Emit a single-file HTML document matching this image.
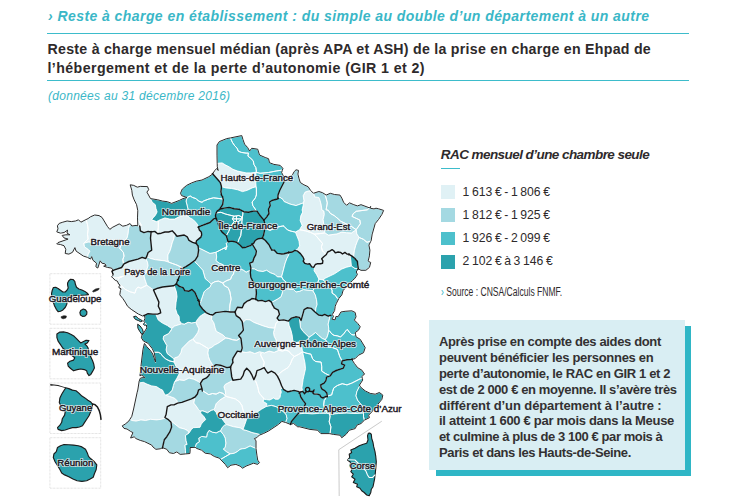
<!DOCTYPE html>
<html lang="fr">
<head>
<meta charset="utf-8">
<title>Reste à charge en établissement</title>
<style>
html,body{margin:0;padding:0;background:#fff;}
body{width:748px;height:504px;position:relative;overflow:hidden;font-family:"Liberation Sans",sans-serif;color:#2e2a2b;}
.t{position:absolute;white-space:nowrap;transform-origin:0 0;line-height:1;}
.rule{position:absolute;left:47px;width:642px;height:1px;background:#3dbccb;}
#title{left:48px;top:9px;font-size:14px;letter-spacing:0.433px;font-weight:bold;font-style:italic;color:#3ab7c7;}
.h{font-size:14.2px;font-weight:bold;color:#2e2a2b;left:47.5px;}
#sub{left:48px;top:89.6px;font-size:12px;letter-spacing:0.285px;font-style:italic;color:#3ab7c7;}
#lt{left:440.8px;top:147.8px;font-size:13.5px;letter-spacing:-0.562px;font-weight:bold;font-style:italic;}
#ltr{position:absolute;left:441px;top:168px;width:18.5px;height:1px;background:#3dbccb;}
.sq{position:absolute;left:441px;width:14px;height:13.5px;}
.ll{left:462.6px;font-size:12.2px;word-spacing:-0.8px;color:#2e2a2b;}
#src{left:441.3px;top:285.8px;font-size:12px;transform:scaleX(0.713);color:#2e2a2b;}
#shadow{position:absolute;left:435.5px;top:326.3px;width:255.3px;height:150.1px;background:#2fb6c6;}
#box{position:absolute;left:428.7px;top:320.3px;width:256px;height:150.1px;background:#d9eef3;}
.b{left:439px;font-size:13px;font-weight:bold;color:#333132;}
#map{position:absolute;left:0;top:0;}
</style>
</head>
<body>
<div class="t" id="title">› Reste à charge en établissement : du simple au double d’un département à un autre</div>
<div class="rule" style="top:33px"></div>
<div class="t h" id="h1" style="top:42px;letter-spacing:0.257px">Reste à charge mensuel médian (après APA et ASH) de la prise en charge en Ehpad de</div>
<div class="t h" id="h2" style="top:61.2px;letter-spacing:0.414px">l’hébergement et de la perte d’autonomie (GIR 1 et 2)</div>
<div class="rule" style="top:80px"></div>
<div class="t" id="sub">(données au 31 décembre 2016)</div>

<div class="t" id="lt">RAC mensuel d’une chambre seule</div>
<div id="ltr"></div>
<div class="sq" style="top:185.2px;background:#e0f1f5"></div>
<div class="sq" style="top:208.4px;background:#a4d9e2"></div>
<div class="sq" style="top:231.5px;background:#4dc0cc"></div>
<div class="sq" style="top:255px;background:#2ba2ad"></div>
<div class="t ll" id="l1" style="top:185.6px">1 613 € - 1 806 €</div>
<div class="t ll" id="l2" style="top:208.8px">1 812 € - 1 925 €</div>
<div class="t ll" id="l3" style="top:232px">1 926 € - 2 099 €</div>
<div class="t ll" id="l4" style="top:255.2px">2 102 € à 3 146 €</div>
<div class="t" id="src"><span style="color:#3ab7c7">›</span> Source : CNSA/Calculs FNMF.</div>

<div id="shadow"></div>
<div id="box"></div>
<div class="t b" id="b1" style="top:334.7px;letter-spacing:-0.358px">Après prise en compte des aides dont</div>
<div class="t b" id="b2" style="top:350.6px;letter-spacing:-0.294px">peuvent bénéficier les personnes en</div>
<div class="t b" id="b3" style="top:366.6px;letter-spacing:-0.351px">perte d’autonomie, le RAC en GIR 1 et 2</div>
<div class="t b" id="b4" style="top:382.5px;letter-spacing:-0.399px">est de 2 000 € en moyenne. Il s’avère très</div>
<div class="t b" id="b5" style="top:398.5px;letter-spacing:-0.092px">différent d’un département à l’autre :</div>
<div class="t b" id="b6" style="top:414.4px;letter-spacing:-0.295px">il atteint 1 600 € par mois dans la Meuse</div>
<div class="t b" id="b7" style="top:430.3px;letter-spacing:-0.423px">et culmine à plus de 3 100 € par mois à</div>
<div class="t b" id="b8" style="top:446.3px;letter-spacing:-0.381px">Paris et dans les Hauts-de-Seine.</div>
<svg id="map" width="748" height="504" viewBox="0 0 748 504">
<rect x="49.9" y="273.7" width="50.8" height="50.5" fill="#fff" stroke="#cfcfcf" stroke-width="0.8" stroke-dasharray="0.7,0.7"/>
<rect x="49.9" y="328.3" width="50.8" height="50.5" fill="#fff" stroke="#cfcfcf" stroke-width="0.8" stroke-dasharray="0.7,0.7"/>
<rect x="49.9" y="383.0" width="50.8" height="50.5" fill="#fff" stroke="#cfcfcf" stroke-width="0.8" stroke-dasharray="0.7,0.7"/>
<rect x="49.9" y="437.7" width="50.8" height="50.5" fill="#fff" stroke="#cfcfcf" stroke-width="0.8" stroke-dasharray="0.7,0.7"/>
<path d="M339.2,496 L338.8,449.7 L381.8,421.2" fill="none" stroke="#bdbdbd" stroke-width="0.8"/>
<path d="M122.2,286.4L120.1,285.0L118.9,286.8L119.3,288.0L121.2,288.8L122.2,286.4ZM137.6,220.0L137.9,225.0L137.6,225.9L139.7,226.6L139.8,226.5L141.5,225.4L139.7,222.4L137.9,220.0L137.6,220.0ZM117.4,281.0L119.2,278.0L123.4,276.2L120.4,276.8L116.8,278.0L112.4,277.5L115.3,280.4L117.4,281.0ZM292.7,355.4L290.7,353.4L288.7,351.0L285.5,350.2L282.3,351.0L278.7,350.3L278.5,350.3L278.2,350.3L278.3,350.5L274.1,352.3L269.2,351.1L264.4,352.9L261.3,352.2L260.6,355.0L264.2,362.2L263.6,365.8L264.2,367.6L266.0,370.6L267.8,373.1L271.4,371.2L275.0,373.1L277.1,375.7L277.4,375.4L282.2,371.2L288.0,367.6L289.2,365.7L289.9,365.1L292.3,359.1L294.1,356.7L294.6,356.4L292.7,355.4ZM151.1,232.0L150.5,238.1L151.7,250.1L148.1,252.5L146.9,256.1L146.7,256.6L146.9,256.7L150.5,258.5L155.3,259.7L164.9,260.9L168.6,262.1L167.9,259.7L167.9,254.9L169.8,251.3L171.0,247.7L172.2,242.9L174.0,238.1L174.6,233.2L172.2,230.8L168.6,232.0L164.9,232.0L161.3,233.2L157.7,233.8L157.6,233.7L154.7,231.4L151.1,232.0ZM278.2,350.3L278.5,350.3L278.7,350.3L282.3,351.0L285.5,350.2L288.7,351.0L290.7,353.4L292.7,355.4L294.6,356.4L294.6,356.4L298.9,354.2L302.5,351.8L301.5,344.6L301.1,341.7L298.1,342.1L293.9,343.3L292.7,339.7L292.1,334.9L290.9,330.1L289.1,325.3L288.5,321.1L283.7,319.9L278.9,320.4L275.9,323.5L274.7,328.3L273.5,332.5L274.1,336.1L275.9,339.7L277.1,343.3L278.2,350.3ZM254.0,379.6L254.0,379.6L255.6,381.0L256.8,384.0L258.0,388.0L258.8,392.0L260.4,394.8L262.5,396.8L264.1,399.2L266.5,399.6L269.7,400.0L272.1,398.8L273.7,398.0L275.3,399.2L278.5,399.2L280.1,397.2L280.5,394.4L281.3,392.0L280.5,389.6L282.3,387.6L282.5,387.5L281.6,385.7L279.8,380.9L277.4,376.1L277.1,375.7L275.0,373.1L271.4,371.2L267.8,373.1L266.0,370.6L264.2,367.6L260.6,369.4L257.0,370.6L255.8,375.4L254.0,379.6ZM212.1,314.9L209.7,314.4L206.1,312.6L205.8,312.3L205.1,313.0L200.1,316.2L197.1,319.9L195.9,322.3L197.1,325.3L198.9,328.9L197.7,332.5L195.3,336.1L192.9,339.0L195.9,342.7L199.5,343.3L208.5,348.7L211.5,347.5L214.5,345.1L218.1,343.3L225.9,337.9L222.9,334.9L216.3,331.3L215.1,327.7L213.9,322.9L211.5,319.2L212.1,315.0L212.1,314.9ZM350.8,260.0L350.4,257.2L350.2,255.1L350.1,255.0L349.0,254.3L349.0,254.3L349.0,254.3L346.9,254.0L344.9,252.4L342.5,254.0L340.5,252.4L338.1,252.0L335.3,252.8L333.7,250.8L332.1,249.6L330.1,250.8L327.7,252.0L326.1,254.8L323.7,256.8L321.7,258.8L322.9,260.8L322.5,263.3L320.5,263.7L317.7,263.7L315.3,264.5L314.5,265.9L314.7,266.0L314.1,270.8L316.5,274.4L318.9,279.2L323.1,279.9L325.5,278.1L334.5,273.8L341.8,269.0L346.6,267.2L351.4,266.0L350.8,260.0L350.8,260.0L350.8,260.0ZM250.0,351.7L246.0,352.5L241.3,351.6L241.1,351.5L241.0,351.7L237.4,351.1L233.2,357.8L232.6,360.0L232.9,362.2L230.5,367.0L231.7,376.7L232.9,380.3L240.7,379.1L243.1,375.4L244.3,371.2L246.7,368.2L249.7,371.2L252.1,375.4L253.9,379.6L254.0,379.6L255.8,375.4L257.0,370.6L260.6,369.4L264.2,367.6L263.6,365.8L264.2,362.2L260.6,355.0L261.3,352.2L259.6,351.7L254.8,353.5L250.0,351.7L250.0,351.7ZM222.0,418.8L225.3,423.3L226.6,424.6L233.4,426.7L240.1,427.8L243.0,429.5L243.0,429.5L246.0,421.1L246.6,418.7L246.6,418.7L246.5,418.6L245.5,417.0L244.3,415.0L244.3,415.0L244.3,415.0L241.9,405.5L239.5,401.9L235.3,398.9L225.7,396.3L219.7,400.1L216.1,403.7L214.8,407.9L213.6,409.8L216.1,412.1L217.2,415.0L217.2,415.0L217.3,415.0L222.0,418.8ZM302.7,391.3L302.5,390.6L301.9,387.9L303.1,379.5L305.5,368.7L304.9,362.7L302.5,351.8L298.9,354.2L294.6,356.4L294.6,356.4L294.1,356.7L292.3,359.1L289.9,365.1L289.2,365.7L288.0,367.6L282.2,371.2L277.4,375.4L277.1,375.7L277.4,376.1L279.8,380.9L281.6,385.7L282.5,387.5L283.4,389.3L286.4,391.1L288.0,391.7L290.1,391.4L294.1,390.4L298.9,391.6L299.6,392.8L300.4,392.1L302.7,391.3ZM322.5,251.0L322.5,251.0L321.3,247.1L322.5,243.5L316.5,236.3L314.1,234.1L310.5,232.4L305.7,230.9L299.6,229.7L295.4,232.1L299.0,241.1L299.6,245.9L297.8,248.9L295.3,250.5L297.6,251.2L300.4,253.6L302.8,256.8L304.0,259.2L303.2,261.3L304.8,263.3L307.6,264.1L309.6,263.7L311.7,266.9L313.7,267.3L314.5,265.9L315.3,264.5L317.7,263.7L320.5,263.7L322.5,263.3L322.9,260.8L321.7,258.8L323.7,256.8L326.1,254.8L325.3,253.6L323.7,252.2L322.5,251.0ZM196.1,242.7L196.5,240.7L198.5,239.1L200.9,237.1L201.7,234.7L201.3,231.9L199.3,229.9L198.5,227.2L198.5,227.1L198.5,227.1L197.3,224.2L195.3,221.8L192.9,219.4L189.7,217.8L187.7,215.8L187.7,215.8L184.1,215.4L179.4,216.6L174.6,219.1L169.8,219.1L164.9,217.9L160.1,219.8L158.6,220.5L158.3,220.7L158.3,227.2L157.7,233.6L157.6,233.7L157.7,233.8L161.3,233.2L164.9,232.0L168.6,232.0L172.2,230.8L174.6,233.2L177.0,236.2L184.2,235.0L187.2,236.8L189.0,240.4L192.6,242.3L196.2,243.5L196.1,242.7ZM323.7,252.2L325.3,253.6L326.1,254.8L327.7,252.0L330.1,250.8L332.1,249.6L333.7,250.8L335.3,252.8L338.1,252.0L340.5,252.4L342.5,254.0L344.9,252.4L346.9,254.0L349.0,254.3L349.0,254.3L349.0,254.3L350.1,255.0L350.2,255.1L352.0,256.1L353.5,257.4L354.4,250.7L355.6,245.9L357.4,241.1L359.2,237.5L356.8,233.9L356.2,229.7L351.4,232.9L346.6,232.7L341.8,232.1L336.9,233.9L328.5,235.1L324.9,232.9L320.1,233.6L314.1,234.1L316.5,236.3L322.5,243.5L321.3,247.1L322.5,251.0L322.5,251.0L323.7,252.2ZM181.7,323.8L181.8,323.7L179.4,320.7L179.1,316.5L177.0,313.5L175.5,308.7L176.0,302.7L177.0,296.7L176.4,291.8L174.3,285.8L174.1,285.4L173.4,285.8L162.5,287.0L157.7,288.2L153.6,290.0L153.5,290.0L158.9,302.1L158.3,306.3L160.1,309.9L160.7,312.9L157.7,314.1L155.9,314.1L155.9,314.5L158.3,320.1L162.5,323.1L167.3,325.5L171.6,328.5L174.6,326.1L181.7,323.8ZM220.3,182.5L221.5,186.7L225.7,187.9L231.7,188.5L237.7,189.8L242.5,191.6L247.3,190.3L252.1,187.9L256.0,186.7L256.1,186.7L255.8,183.1L256.0,172.3L250.9,172.9L246.1,172.9L237.7,171.1L232.9,169.3L229.3,166.9L225.7,165.1L222.1,162.9L217.5,163.3L217.3,163.3L217.3,166.8L218.4,170.8L216.9,168.5L214.9,170.4L212.8,173.7L212.4,173.5L212.7,173.8L220.3,182.5ZM150.5,198.7L150.5,198.7L146.9,192.1L148.7,189.7L147.5,186.7L140.3,186.4L137.3,187.3L133.7,185.4L130.3,184.8L131.8,190.3L132.4,195.1L134.3,199.9L136.7,204.7L137.9,210.7L137.5,217.9L137.6,220.0L137.9,220.0L139.7,222.4L141.5,225.4L139.8,226.5L139.9,226.6L140.3,230.8L143.9,232.6L148.1,231.4L151.1,232.0L154.7,231.4L157.6,233.7L157.7,233.6L158.3,227.2L158.3,220.7L156.5,221.6L151.7,219.8L152.9,217.9L155.3,215.5L157.1,211.9L155.9,208.3L155.3,204.7L152.3,202.3L150.5,198.9L150.5,198.7ZM313.7,193.2L313.5,193.3L311.1,190.9L308.7,190.9L305.1,192.1L303.2,195.7L303.9,200.5L303.5,202.9L303.2,205.3L302.1,210.0L302.7,212.1L300.8,215.8L300.2,220.6L302.1,225.4L299.6,229.7L305.7,230.9L310.5,232.4L314.1,234.1L320.1,233.6L324.9,232.9L323.1,219.4L324.3,214.6L323.9,211.0L321.9,210.0L321.3,205.3L320.1,200.5L318.9,197.5L314.7,196.9L313.8,193.6L313.7,193.2ZM86.0,219.7L80.9,222.2L78.5,219.8L75.5,221.0L71.3,221.6L67.1,221.0L62.9,222.2L59.2,223.4L57.5,225.8L58.0,228.8L56.8,231.8L60.5,233.1L61.3,232.9L64.1,232.4L67.7,230.0L67.1,233.1L70.1,234.8L65.9,234.8L62.3,235.4L64.1,237.9L68.3,239.1L58.0,242.7L56.8,243.9L60.5,244.5L64.1,245.7L65.9,249.3L65.3,253.5L68.9,254.1L72.5,252.3L74.9,247.5L76.1,251.1L83.3,255.9L86.9,257.1L87.5,257.4L87.5,257.4L88.1,254.7L89.9,251.1L88.1,249.3L84.5,246.9L83.9,243.3L88.1,239.1L87.5,234.2L88.1,229.4L87.5,224.6L86.3,220.4L86.0,219.7ZM137.9,259.1L128.8,261.5L124.0,263.9L121.6,267.5L114.4,269.9L113.2,270.5L112.0,271.1L112.7,273.4L113.4,275.0L111.7,276.7L111.7,276.7L111.7,276.8L112.0,277.4L112.4,277.5L116.8,278.0L120.4,276.8L123.4,276.2L119.2,278.0L117.4,281.0L118.6,284.0L120.1,285.0L122.2,286.4L125.2,289.4L130.1,291.8L134.9,293.1L136.1,289.4L137.9,287.0L140.9,288.2L146.9,285.2L144.5,278.0L143.9,275.0L146.3,272.9L146.9,269.3L148.1,265.7L147.5,262.1L145.7,258.5L142.1,257.3L137.9,259.1ZM122.2,286.4L121.2,288.8L120.4,290.6L119.8,294.9L122.8,298.5L125.2,302.1L127.6,306.3L131.2,309.3L138.5,314.1L142.7,315.9L144.5,315.3L148.1,313.7L152.9,314.1L155.9,314.1L157.7,314.1L160.7,312.9L160.1,309.9L158.3,306.3L158.9,302.1L153.5,290.0L153.6,290.0L153.5,289.9L146.9,285.2L140.9,288.2L137.9,287.0L136.1,289.4L134.9,293.1L130.1,291.8L125.2,289.4L122.2,286.4ZM189.0,433.1L191.2,429.7L193.2,427.7L200.0,427.3L201.3,424.1L203.3,421.7L205.7,419.6L204.1,416.8L201.4,413.9L200.4,412.8L201.0,412.2L200.1,411.3L199.3,410.4L198.6,409.7L196.2,406.1L193.8,403.1L195.0,397.0L191.4,398.8L181.8,402.4L177.6,403.1L174.0,404.9L171.0,404.9L167.3,406.7L166.1,414.5L164.9,417.5L165.6,417.9L167.9,419.3L171.0,422.3L171.9,421.7L179.4,427.7L184.2,428.9L187.8,430.7L189.0,433.1L189.0,433.1ZM109.8,229.4L107.4,226.4L102.0,217.4L99.0,215.6L94.8,215.0L90.5,216.8L88.1,218.6L86.0,219.7L86.3,220.4L87.5,224.6L88.1,229.4L87.5,234.2L88.1,239.1L83.9,243.3L88.1,242.1L106.2,242.9L121.2,244.2L121.2,244.2L121.3,244.2L121.3,244.2L127.0,238.0L127.0,238.0L127.1,238.0L128.2,233.2L128.6,228.4L130.1,223.8L130.2,223.8L130.1,223.6L126.4,225.4L122.8,226.3L119.2,224.0L112.2,227.6L112.2,227.6L109.8,229.4ZM242.5,322.8L246.0,319.6L250.0,319.9L250.0,319.9L250.0,319.9L253.6,322.3L263.2,325.9L269.2,327.7L274.7,328.3L275.9,323.5L278.9,320.4L277.1,318.1L279.5,314.4L278.3,310.2L274.1,307.8L273.8,307.0L272.6,305.0L271.5,302.3L271.4,302.1L269.0,300.4L265.4,301.6L261.8,300.4L258.2,300.9L255.8,299.1L252.1,298.5L251.8,298.7L250.0,300.0L247.0,301.2L244.0,303.6L242.2,307.8L237.4,307.2L235.0,312.0L236.2,315.6L239.8,318.1L242.2,321.7L242.4,322.8L242.5,322.8ZM246.5,418.6L246.6,418.7L248.4,415.7L253.2,413.9L258.1,411.5L261.7,409.1L265.9,406.7L265.9,406.7L265.9,406.6L266.0,406.6L266.5,405.7L266.9,403.7L264.9,402.5L262.9,401.3L264.1,399.2L262.5,396.8L260.4,394.8L258.8,392.0L258.0,388.0L256.8,384.0L255.6,381.0L254.0,379.6L254.0,379.6L253.9,379.6L252.1,375.4L249.7,371.2L246.7,368.2L244.3,371.2L243.1,375.4L240.7,379.1L232.9,380.3L225.1,384.5L223.9,386.9L225.1,390.5L225.7,394.7L225.7,396.3L235.3,398.9L239.5,401.9L241.9,405.5L244.3,415.0L244.3,415.0L244.3,415.0L245.5,417.0L246.5,418.6ZM138.9,382.9L137.9,390.0L137.3,392.2L133.7,409.1L131.8,416.3L130.0,419.3L131.8,420.5L136.1,421.1L140.9,419.9L145.7,420.5L150.5,419.3L156.5,419.9L161.3,419.3L165.5,418.1L165.6,417.9L164.9,417.5L166.1,414.5L167.3,406.7L171.0,404.9L174.0,404.9L177.6,403.1L177.0,400.6L174.6,398.2L169.8,396.4L165.5,395.2L164.0,393.2L162.5,390.1L162.5,390.0L160.1,389.0L156.5,386.6L151.7,385.9L146.9,384.1L143.3,382.3L139.1,382.9L138.9,382.9ZM211.5,363.0L209.7,360.0L209.7,360.0L209.7,360.0L208.5,356.6L207.9,352.9L208.5,348.7L199.5,343.3L195.9,342.7L192.9,339.0L189.2,341.1L182.0,348.4L180.8,352.9L178.4,356.6L174.4,358.0L174.0,358.6L173.8,358.8L174.0,358.9L174.0,361.9L175.8,366.1L178.2,370.3L179.4,373.3L177.0,378.1L175.2,381.1L174.6,381.7L179.4,379.9L184.2,380.5L189.0,378.1L193.8,379.3L198.6,381.7L200.5,383.1L202.8,379.7L206.4,377.9L208.8,375.4L213.6,366.4L213.4,366.2L211.5,363.0Z" fill="#e0f1f5" stroke="#fff" stroke-width="0.9" stroke-linejoin="round"/>
<path d="M357.4,261.6L357.4,261.6L357.8,265.0L358.3,268.7L358.3,268.7L358.3,268.8L361.0,270.2L365.8,270.2L369.4,267.2L370.6,262.4L368.6,261.7L368.2,260.9L369.4,255.9L369.9,250.1L368.9,245.1L370.8,241.3L370.4,241.1L367.0,242.3L363.4,239.3L359.2,237.5L357.4,241.1L355.6,245.9L354.4,250.7L353.5,257.4L353.9,257.6L355.0,258.5L357.4,261.6ZM201.6,388.8L198.6,389.8L197.4,394.0L195.0,397.0L193.8,403.1L196.2,406.1L198.6,409.7L199.3,410.4L200.1,411.3L202.8,410.9L207.6,412.8L211.2,410.4L213.6,409.8L214.8,407.9L216.1,403.7L219.7,400.1L225.7,396.3L223.3,393.5L219.7,392.3L216.1,394.1L212.4,393.5L208.8,394.7L202.2,390.5L201.6,388.8ZM171.0,422.3L171.6,427.1L169.8,431.9L166.8,436.7L164.3,439.8L163.1,445.0L162.6,447.6L166.8,449.3L169.3,452.6L173.5,453.5L176.8,451.8L180.2,454.3L185.5,453.9L185.5,453.5L185.5,450.3L185.0,445.2L185.0,445.0L187.1,444.5L186.0,440.4L185.4,435.5L189.0,433.1L189.0,433.1L187.8,430.7L184.2,428.9L179.4,427.7L171.9,421.7L171.0,422.3ZM174.6,381.7L173.4,385.4L172.2,390.0L172.2,390.1L168.6,394.0L165.5,395.2L169.8,396.4L174.6,398.2L177.0,400.6L177.6,403.1L181.8,402.4L191.4,398.8L195.0,397.0L197.4,394.0L198.6,389.8L201.6,388.8L202.0,388.6L201.4,386.6L200.4,383.3L200.5,383.1L200.5,383.1L198.6,381.7L193.8,379.3L189.0,378.1L184.2,380.5L179.4,379.9L174.6,381.7ZM322.5,192.7L318.9,191.5L313.7,193.2L313.8,193.6L314.7,196.9L318.9,197.5L320.1,200.5L321.3,205.3L321.9,210.0L323.9,211.0L324.3,214.6L323.1,219.4L324.9,232.9L328.5,235.1L336.9,233.9L341.8,232.1L346.6,232.7L351.4,232.9L356.2,229.7L351.4,226.4L340.6,221.2L338.1,218.8L334.5,215.8L330.3,213.4L328.2,210.2L326.1,209.8L327.3,202.9L326.1,198.1L324.9,194.5L325.0,194.4L322.5,192.7ZM367.6,209.8L356.2,211.3L353.2,213.7L352.0,216.4L359.8,220.0L360.4,223.7L356.2,229.7L356.8,233.9L359.2,237.5L363.4,239.3L367.0,242.3L370.4,241.1L370.8,241.3L371.0,240.9L372.2,234.1L372.2,234.1L372.2,233.9L375.2,223.5L378.5,219.3L381.9,214.3L383.6,210.5L378.5,208.8L376.0,208.2L374.0,209.0L370.6,208.4L370.0,208.1L370.6,206.4L369.3,207.9L367.6,209.8ZM284.4,181.3L279.8,190.3L278.0,195.0L277.9,197.3L278.3,198.1L279.8,197.2L283.0,199.6L284.0,201.5L290.0,204.1L296.0,205.6L303.5,202.9L303.5,202.9L303.9,200.5L303.2,195.7L305.1,192.1L308.7,190.9L311.1,190.9L310.5,190.3L308.1,186.7L303.9,184.9L300.2,182.5L299.0,178.9L297.8,174.1L298.4,170.4L296.0,169.8L294.2,171.7L292.7,174.7L288.6,178.3L284.0,176.7L283.7,176.5L283.7,176.8L284.4,181.3ZM201.4,386.6L202.0,388.6L201.6,388.8L202.2,390.5L208.8,394.7L212.4,393.5L216.1,394.1L219.7,392.3L223.3,393.5L225.7,396.3L225.7,394.7L225.1,390.5L223.9,386.9L225.1,384.5L232.9,380.3L231.7,376.7L230.5,367.0L226.9,367.6L220.3,365.2L216.1,364.6L213.6,366.4L208.8,375.4L206.4,377.9L202.8,379.7L200.5,383.1L200.5,383.1L200.4,383.3L201.4,386.6ZM315.0,312.1L315.0,312.0L311.4,308.4L307.1,307.8L304.1,309.6L301.1,320.4L299.3,317.4L300.5,327.7L302.9,331.3L309.0,337.3L312.6,334.9L315.6,332.5L318.6,335.5L322.2,338.5L325.2,339.7L325.3,339.6L327.0,337.3L328.2,333.7L328.6,330.5L328.8,328.9L328.2,324.1L330.3,315.4L330.1,315.3L328.2,316.2L324.6,314.4L322.2,315.6L318.6,315.0L315.0,312.1ZM229.5,311.9L225.3,311.4L215.7,312.6L212.7,315.0L212.1,314.9L212.1,315.0L211.5,319.2L213.9,322.9L215.1,327.7L216.3,331.3L222.9,334.9L225.9,337.9L229.0,338.5L232.6,339.7L236.8,340.3L240.0,338.3L240.5,337.9L238.6,335.5L241.0,333.1L243.4,330.1L242.4,322.8L242.2,321.7L239.8,318.1L236.2,315.6L235.0,312.0L230.2,312.0L229.5,311.9ZM209.7,360.0L209.7,360.0L209.7,360.0L211.5,363.0L213.4,366.2L213.6,366.4L216.1,364.6L220.3,365.2L226.9,367.6L230.5,367.0L232.9,362.2L232.6,360.0L233.2,357.8L237.4,351.1L241.0,351.7L241.1,351.5L242.2,348.1L241.0,338.5L240.5,337.9L240.0,338.3L236.8,340.3L232.6,339.7L229.0,338.5L225.9,337.9L218.1,343.3L214.5,345.1L211.5,347.5L208.5,348.7L207.9,352.9L208.5,356.6L209.7,360.0ZM224.6,425.0L222.2,427.4L220.4,431.0L223.4,434.6L225.2,438.2L225.8,443.1L225.2,447.3L223.2,449.1L226.4,451.7L230.0,453.9L234.2,453.3L237.2,451.7L240.0,449.4L242.2,448.8L245.1,448.5L250.1,446.0L256.0,448.5L256.0,440.9L254.3,438.4L256.8,437.6L259.3,435.1L259.7,434.9L259.5,434.3L252.0,432.5L247.2,430.7L243.2,429.6L243.0,429.5L243.0,429.5L240.1,427.8L233.4,426.7L226.6,424.6L224.6,425.0ZM369.3,207.9L361.0,204.8L357.4,205.9L353.8,204.8L349.6,202.9L346.6,205.3L343.6,202.3L341.8,198.1L339.9,195.1L334.5,194.5L330.3,193.3L326.1,195.1L325.0,194.4L324.9,194.5L326.1,198.1L327.3,202.9L326.1,209.8L328.2,210.2L330.3,213.4L334.5,215.8L338.1,218.8L340.6,221.2L351.4,226.4L356.2,229.7L360.4,223.7L359.8,220.0L352.0,216.4L353.2,213.7L356.2,211.3L367.6,209.8L369.3,207.9ZM189.0,240.4L187.2,236.8L184.2,235.0L177.0,236.2L174.6,233.2L174.0,238.1L172.2,242.9L171.0,247.7L169.8,251.3L167.9,254.9L167.9,259.7L168.6,262.1L177.0,265.1L183.0,268.1L186.0,266.7L190.2,263.9L194.1,261.0L195.0,260.3L197.7,256.1L198.6,250.1L198.3,247.8L198.3,247.6L198.0,245.9L196.2,243.5L196.2,243.5L196.2,243.5L192.6,242.3L189.0,240.4ZM198.9,328.9L197.1,325.3L195.9,322.3L191.7,322.9L188.1,322.3L184.4,324.1L181.9,323.7L181.8,323.7L181.8,323.7L181.7,323.8L174.6,326.1L171.6,328.5L171.2,330.1L171.0,330.0L168.6,333.6L163.7,336.0L163.1,339.0L166.8,345.6L166.1,349.9L167.1,353.5L173.8,358.8L174.0,358.6L174.4,358.0L178.4,356.6L180.8,352.9L182.0,348.4L189.2,341.1L192.9,339.0L195.3,336.1L197.7,332.5L198.9,328.9ZM194.3,261.3L196.0,263.0L198.0,264.9L198.0,264.9L198.0,264.9L202.8,270.3L205.2,278.7L208.2,281.1L211.2,284.1L211.8,283.5L214.8,281.7L218.4,281.1L222.7,282.9L226.9,280.5L230.5,279.3L231.7,276.3L233.5,273.9L234.1,270.5L228.1,267.9L222.1,264.2L219.1,263.1L216.1,260.6L216.7,257.0L216.1,252.2L210.0,253.4L200.4,248.6L198.3,247.8L198.6,250.1L197.7,256.1L195.0,260.3L194.1,261.0L194.3,261.3ZM229.5,311.8L229.7,308.5L229.9,305.0L229.9,305.0L229.9,305.0L231.1,299.1L229.9,291.9L228.1,287.7L224.5,285.9L222.7,282.9L218.4,281.1L214.8,281.7L211.8,283.5L211.2,284.1L210.0,287.1L206.4,289.5L204.0,291.9L200.4,302.5L199.2,302.7L199.5,304.8L202.5,309.0L205.8,312.3L206.1,312.6L209.7,314.4L212.1,314.9L212.7,315.0L215.7,312.6L225.3,311.4L229.5,311.9L229.5,311.8ZM113.2,270.5L114.4,269.9L121.6,267.5L124.0,263.9L123.4,263.3L122.8,259.7L124.0,256.1L123.4,252.5L119.8,248.3L121.2,244.2L121.2,244.2L106.2,242.9L88.1,242.1L83.9,243.3L84.5,246.9L88.1,249.3L89.9,251.1L88.1,254.7L87.5,257.4L87.5,257.4L90.5,258.9L91.7,256.5L92.9,260.1L96.5,263.1L96.0,266.7L97.8,267.9L100.2,260.7L102.0,263.1L105.0,263.7L106.2,265.5L103.8,266.1L107.4,267.3L111.0,267.9L112.2,268.5L113.2,270.5ZM131.8,226.0L130.2,223.8L130.1,223.8L128.6,228.4L128.2,233.2L127.1,238.0L127.0,238.0L127.0,238.0L121.3,244.2L121.3,244.2L121.2,244.2L119.8,248.3L123.4,252.5L124.0,256.1L122.8,259.7L123.4,263.3L124.0,263.9L128.8,261.5L137.9,259.1L142.1,257.3L145.7,258.5L146.7,256.6L146.9,256.1L148.1,252.5L151.7,250.1L150.5,238.1L151.1,232.0L148.1,231.4L143.9,232.6L140.3,230.8L139.9,226.6L139.8,226.5L139.7,226.6L137.6,225.9L136.1,225.4L131.8,226.0ZM288.0,256.4L288.0,256.4L288.8,254.5L289.5,252.6L289.5,252.4L288.8,252.5L288.8,252.5L288.8,252.5L284.0,253.7L281.8,254.0L277.4,253.4L274.1,250.1L272.0,250.0L270.8,248.4L269.0,244.8L265.4,240.5L262.4,238.1L258.2,238.7L255.2,240.5L253.9,242.9L252.2,244.3L252.8,245.0L256.4,251.0L255.8,254.6L253.9,258.2L252.8,261.8L249.7,263.1L250.9,267.9L250.9,268.5L250.9,268.5L254.6,269.1L258.2,270.9L263.0,271.5L266.6,270.3L270.2,272.7L275.0,274.5L277.4,276.9L281.6,276.9L285.2,263.1L287.0,258.2L288.0,256.4ZM177.9,280.0L177.9,280.0L180.6,272.9L183.0,268.1L177.0,265.1L168.6,262.1L164.9,260.9L155.3,259.7L150.5,258.5L146.9,256.7L146.7,256.6L145.7,258.5L147.5,262.1L148.1,265.7L146.9,269.3L146.3,272.9L143.9,275.0L144.5,278.0L146.9,285.2L153.5,289.9L153.6,290.0L157.7,288.2L162.5,287.0L173.4,285.8L174.1,285.4L176.4,284.0L176.4,284.0L176.4,284.0L176.4,284.0L177.0,282.0L177.9,280.0L177.9,280.0ZM229.9,305.0L229.9,305.0L229.9,305.0L229.7,308.5L229.5,311.8L229.5,311.9L230.2,312.0L235.0,312.0L237.4,307.2L242.2,307.8L244.0,303.6L247.0,301.2L250.0,300.0L251.8,298.7L252.1,298.5L255.8,299.1L256.4,293.1L255.8,284.7L252.8,281.1L250.9,277.5L250.3,272.7L250.6,270.3L250.6,270.3L248.5,270.9L246.1,272.1L243.7,270.3L240.1,268.5L234.1,270.5L233.5,273.9L231.7,276.3L230.5,279.3L226.9,280.5L222.7,282.9L224.5,285.9L228.1,287.7L229.9,291.9L231.1,299.1L229.9,305.0ZM130.0,419.3L128.8,421.1L125.2,424.1L122.2,425.9L124.0,428.3L127.0,428.9L130.7,431.3L133.1,432.5L130.7,437.9L134.3,436.7L136.1,438.5L140.3,440.4L144.5,441.6L151.7,445.0L153.1,447.0L156.0,449.3L160.1,448.8L162.6,447.6L163.1,445.0L164.3,439.8L166.8,436.7L169.8,431.9L171.6,427.1L171.0,422.3L167.9,419.3L165.6,417.9L165.5,418.1L161.3,419.3L156.5,419.9L150.5,419.3L145.7,420.5L140.9,419.9L136.1,421.1L131.8,420.5L130.0,419.3ZM250.0,319.9L250.0,319.9L246.0,319.6L242.5,322.8L242.4,322.8L243.4,330.1L241.0,333.1L238.6,335.5L240.5,337.9L241.0,338.5L242.2,348.1L241.1,351.5L241.3,351.6L246.0,352.5L250.0,351.7L250.0,351.7L254.8,353.5L259.6,351.7L261.3,352.2L264.4,352.9L269.2,351.1L274.1,352.3L278.3,350.5L278.2,350.3L277.1,343.3L275.9,339.7L274.1,336.1L273.5,332.5L274.7,328.3L269.2,327.7L263.2,325.9L253.6,322.3L250.0,319.9L250.0,319.9ZM285.0,288.4L285.0,288.5L282.5,291.6L282.2,293.1L281.0,296.7L277.4,299.1L271.6,302.3L271.5,302.3L272.6,305.0L273.8,307.0L274.1,307.8L278.3,310.2L279.5,314.4L277.1,318.1L278.9,320.4L283.7,319.9L288.5,321.1L291.5,318.1L295.7,316.8L299.3,317.4L301.1,320.4L304.1,309.6L307.1,307.8L311.4,308.4L315.0,312.0L315.0,312.1L315.5,311.5L315.9,308.1L317.1,304.5L316.5,299.7L315.3,294.9L312.9,290.7L303.2,289.5L299.6,291.3L296.0,291.9L293.6,289.5L285.0,288.4Z" fill="#a4d9e2" stroke="#fff" stroke-width="0.9" stroke-linejoin="round"/>
<path d="M224.6,247.9L225.7,250.0L226.9,246.6L226.8,246.0L225.7,247.4L224.6,247.9ZM309.5,390.6L309.8,389.6L309.5,388.5L308.7,387.7L307.6,387.4L306.5,387.7L305.7,388.5L305.4,389.6L305.7,390.6L305.7,390.7L306.5,391.5L307.6,391.8L308.7,391.5L309.5,390.7L309.5,390.6ZM326.7,396.8L325.3,396.5L322.9,398.1L320.9,396.9L319.7,394.9L317.3,394.1L314.1,394.1L312.9,392.9L314.1,390.0L312.5,391.7L310.0,391.3L309.6,390.6L309.5,390.6L309.5,390.7L308.7,391.5L307.6,391.8L306.5,391.5L305.7,390.7L305.7,390.6L305.6,390.6L306.0,392.0L304.4,393.7L302.8,391.3L302.7,391.3L300.4,392.1L299.6,392.8L300.8,397.0L303.2,400.6L305.6,403.6L304.4,406.1L301.4,410.3L297.8,413.9L305.0,413.3L312.2,413.9L319.4,413.3L326.6,413.3L325.4,409.1L323.6,405.4L324.2,400.6L326.6,397.0L326.7,396.8ZM230.0,453.9L220.6,459.4L225.3,464.3L227.6,467.6L230.9,465.2L235.9,464.3L240.1,466.0L242.6,468.2L246.0,466.0L253.5,463.2L257.6,464.3L259.3,462.7L257.6,460.2L256.8,455.1L256.0,448.5L250.1,446.0L245.1,448.5L242.2,448.8L240.0,449.4L237.2,451.7L234.2,453.3L230.0,453.9ZM338.6,298.7L338.8,298.5L341.8,294.9L343.0,290.7L349.0,283.5L352.6,280.4L355.0,278.1L357.4,274.4L356.2,272.0L358.0,268.7L355.0,268.4L351.4,266.0L346.6,267.2L341.8,269.0L334.5,273.8L325.5,278.1L323.1,279.9L326.7,282.9L329.7,286.5L332.1,290.1L332.1,293.1L335.7,295.5L336.6,297.7L338.6,298.7ZM230.6,137.9L230.7,138.6L232.3,142.2L234.7,145.8L237.1,148.2L238.3,151.2L241.3,152.4L246.1,153.1L248.5,153.1L247.9,156.1L250.9,158.5L253.3,160.9L253.9,164.5L255.8,167.5L256.4,171.1L256.0,172.3L260.1,173.3L268.5,172.5L276.8,170.9L281.9,170.2L282.2,170.4L282.9,168.4L280.2,165.4L273.8,164.4L269.5,162.7L268.5,158.7L265.1,157.6L259.5,155.1L257.6,149.2L251.8,148.4L249.6,151.0L247.6,147.5L244.6,144.2L242.9,139.7L241.8,135.7L230.6,137.9ZM219.8,431.0L216.2,432.8L212.6,432.2L209.0,430.4L207.2,433.4L206.6,437.0L201.7,436.4L198.7,438.2L199.3,441.8L196.3,443.6L195.1,447.3L196.9,448.5L201.6,450.1L205.2,453.1L210.3,453.8L214.4,456.5L219.5,458.2L220.6,459.3L220.4,459.5L220.6,459.4L230.0,453.9L226.4,451.7L223.2,449.1L225.2,447.3L225.8,443.1L225.2,438.2L223.4,434.6L220.4,431.0L219.8,431.0ZM282.5,387.5L282.3,387.6L280.5,389.6L281.3,392.0L280.5,394.4L280.1,397.2L278.5,399.2L275.3,399.2L273.7,398.0L272.1,398.8L269.7,400.0L266.5,399.6L264.1,399.2L262.9,401.3L264.9,402.5L266.9,403.7L266.5,405.7L266.0,406.6L265.9,406.6L271.3,405.4L276.1,406.7L283.9,412.1L286.3,415.1L286.9,418.7L285.7,421.9L285.6,422.4L286.1,422.6L290.2,424.2L290.5,424.2L290.5,424.1L291.7,421.1L297.8,413.9L301.4,410.3L304.4,406.1L305.6,403.6L303.2,400.6L300.8,397.0L299.6,392.8L298.9,391.6L294.1,390.4L290.1,391.4L288.0,391.7L286.4,391.1L283.4,389.3L282.5,387.5ZM221.5,186.7L220.9,191.6L221.5,195.0L222.6,196.8L223.1,199.0L223.3,199.6L222.7,204.4L219.7,209.2L223.9,208.1L229.3,207.4L234.1,208.7L238.9,209.2L243.2,211.4L243.7,211.7L248.5,212.3L253.3,211.1L256.4,211.1L254.6,208.1L252.8,205.6L252.1,202.0L254.6,199.0L255.6,197.3L255.8,196.5L256.4,195.0L256.4,189.1L256.1,186.7L256.0,186.7L252.1,187.9L247.3,190.3L242.5,191.6L237.7,189.8L231.7,188.5L225.7,187.9L221.5,186.7ZM327.3,396.7L327.3,396.7L328.5,395.7L331.7,394.9L332.5,391.7L333.8,387.9L333.8,387.9L333.8,387.9L337.4,385.5L342.2,383.7L347.0,384.9L351.8,383.1L360.0,378.9L362.2,378.4L361.8,376.7L364.2,374.0L364.3,374.1L364.3,374.0L364.3,373.9L364.3,373.9L361.8,370.2L357.6,367.7L354.3,363.5L351.9,359.4L347.0,359.7L342.2,360.9L341.6,363.9L344.6,365.1L343.4,368.1L336.2,370.5L332.6,372.3L330.2,375.8L330.2,375.8L330.2,375.9L326.6,377.1L325.9,380.7L324.1,383.1L321.7,384.3L320.9,384.8L320.9,387.2L322.1,389.2L324.9,390.9L326.9,393.3L327.3,396.7ZM201.3,231.9L201.7,234.7L200.9,237.1L198.5,239.1L196.5,240.7L196.1,242.7L196.2,243.5L196.2,243.5L196.2,243.5L198.0,245.9L198.3,247.6L198.3,247.8L200.4,248.6L210.0,253.4L216.1,252.2L224.6,247.9L225.7,247.4L226.8,246.0L226.6,245.2L226.3,243.5L228.1,241.7L226.3,235.7L222.1,232.1L219.7,228.5L217.8,222.5L216.1,218.3L213.6,218.9L210.0,222.5L200.4,226.1L198.5,227.1L198.5,227.1L198.5,227.1L198.5,227.2L199.3,229.9L201.3,231.9ZM221.5,186.7L220.3,182.5L212.7,173.8L212.3,174.4L208.9,176.8L204.0,179.1L202.0,180.0L196.2,181.2L191.4,183.1L186.6,185.4L182.4,189.1L180.6,193.3L181.8,195.7L187.2,197.5L190.2,196.0L192.6,197.5L196.2,198.7L198.6,201.1L202.0,202.3L203.6,201.0L208.8,199.0L213.6,197.8L222.9,199.0L223.1,199.0L222.6,196.8L221.5,195.0L220.9,191.6L221.5,186.7ZM320.9,384.8L321.7,384.3L324.1,383.1L325.9,380.7L326.6,377.1L330.2,375.9L330.2,375.8L325.4,373.5L321.7,371.1L321.7,366.3L321.1,362.1L315.7,361.5L312.7,359.1L310.9,354.2L306.1,353.1L302.5,351.8L304.9,362.7L305.5,368.7L303.1,379.5L301.9,387.9L302.5,390.6L302.7,391.3L302.8,391.3L304.4,393.7L306.0,392.0L305.6,390.6L305.7,390.6L305.4,389.6L305.7,388.5L306.5,387.7L307.6,387.4L308.7,387.7L309.5,388.5L309.8,389.6L309.5,390.6L309.6,390.6L310.0,391.3L312.5,391.7L314.1,390.0L312.9,392.9L314.1,394.1L317.3,394.1L319.7,394.9L320.9,396.9L322.9,398.1L325.3,396.5L326.7,396.8L327.3,396.9L327.3,396.7L326.9,393.3L324.9,390.9L322.1,389.2L320.9,387.2L320.9,384.8ZM198.0,264.9L196.0,263.0L194.3,261.3L194.1,261.0L190.2,263.9L186.0,266.7L183.0,268.1L180.6,272.9L177.9,280.0L177.9,280.0L177.9,280.0L177.0,282.0L176.4,284.0L176.4,284.0L176.4,284.0L179.4,286.4L183.0,287.6L184.8,290.6L189.0,291.2L192.0,289.4L195.0,292.4L198.3,300.3L198.9,301.7L199.1,301.7L199.2,302.7L200.4,302.5L204.0,291.9L206.4,289.5L210.0,287.1L211.2,284.1L208.2,281.1L205.2,278.7L202.8,270.3L198.0,264.9L198.0,264.9L198.0,264.9ZM289.5,252.4L292.4,252.0L294.4,250.7L294.8,250.4L295.3,250.5L297.8,248.9L299.6,245.9L299.0,241.1L295.4,232.1L291.2,231.2L287.6,230.0L284.3,226.7L284.0,226.4L283.9,225.9L282.2,226.1L276.2,227.3L270.2,230.3L264.9,228.5L264.7,228.5L264.4,230.9L263.6,235.1L262.4,238.1L265.4,240.5L269.0,244.8L270.8,248.4L272.0,250.0L274.1,250.1L277.4,253.4L281.8,254.0L284.0,253.7L288.8,252.5L288.8,252.5L288.8,252.5L289.5,252.4ZM327.8,347.0L332.6,347.6L337.4,349.4L339.8,356.7L341.9,360.5L342.2,360.9L347.0,359.7L351.9,359.4L352.2,359.4L352.1,359.3L355.1,358.5L358.5,355.2L363.5,352.7L365.2,347.6L360.2,339.3L356.0,336.8L355.5,334.2L355.3,334.2L354.1,335.0L351.7,334.6L349.3,332.2L347.3,329.4L346.1,330.6L343.7,333.8L340.5,337.0L337.3,335.8L334.1,335.4L331.7,333.8L329.2,330.6L328.6,330.5L328.2,333.7L327.0,337.3L325.3,339.6L325.5,339.8L326.0,340.2L326.8,344.2L327.8,347.0L327.8,347.0ZM187.7,215.8L187.7,215.8L189.7,217.8L192.9,219.4L195.3,221.8L197.3,224.2L198.5,227.1L198.5,227.1L200.4,226.1L210.0,222.5L213.6,218.9L216.1,218.3L215.4,215.9L216.1,212.9L217.2,211.1L219.7,209.2L222.7,204.4L223.3,199.6L223.1,199.0L222.9,199.0L213.6,197.8L208.8,199.0L203.6,201.0L202.0,202.3L198.6,201.1L196.2,198.7L192.6,197.5L190.2,196.0L187.2,197.5L186.0,201.1L188.4,210.7L188.5,213.7L187.7,215.8ZM256.0,172.3L256.4,171.1L255.8,167.5L253.9,164.5L253.3,160.9L250.9,158.5L247.9,156.1L248.5,153.1L246.1,153.1L241.3,152.4L238.3,151.2L237.1,148.2L234.7,145.8L232.3,142.2L230.7,138.6L230.6,137.9L226.7,138.7L219.4,141.7L217.0,145.0L217.0,155.1L217.3,163.3L217.5,163.3L222.1,162.9L225.7,165.1L229.3,166.9L232.9,169.3L237.7,171.1L246.1,172.9L250.9,172.9L256.0,172.3ZM283.4,279.9L281.6,276.9L277.4,276.9L275.0,274.5L270.2,272.7L266.6,270.3L263.0,271.5L258.2,270.9L254.6,269.1L250.9,268.5L250.9,268.5L250.6,270.3L250.3,272.7L250.9,277.5L252.8,281.1L255.8,284.7L256.4,293.1L255.8,299.1L258.2,300.9L261.8,300.4L265.4,301.6L269.0,300.4L271.4,302.1L271.5,302.3L271.6,302.3L277.4,299.1L281.0,296.7L282.2,293.1L282.5,291.6L285.0,288.5L285.0,288.4L286.5,285.0L285.8,281.7L285.6,281.7L283.4,279.9ZM250.9,245.3L246.1,247.2L242.5,247.8L240.1,245.3L237.2,242.9L236.5,242.3L231.7,241.1L228.1,241.7L226.3,243.5L226.6,245.2L226.8,246.0L226.9,246.6L225.7,250.0L224.6,247.9L216.1,252.2L216.7,257.0L216.1,260.6L219.1,263.1L222.1,264.2L228.1,267.9L234.1,270.5L240.1,268.5L243.7,270.3L246.1,272.1L248.5,270.9L250.6,270.3L250.6,270.3L250.9,268.5L250.9,267.9L249.7,263.1L252.8,261.8L253.9,258.2L255.8,254.6L256.4,251.0L252.8,245.0L252.2,244.3L250.9,245.3ZM326.0,340.2L325.5,339.8L325.3,339.6L325.2,339.7L322.2,338.5L318.6,335.5L315.6,332.5L312.6,334.9L309.0,337.3L306.6,340.9L301.1,341.7L301.5,344.6L302.5,351.8L306.1,353.1L310.9,354.2L312.7,359.1L315.7,361.5L321.1,362.1L321.7,366.3L321.7,371.1L325.4,373.5L330.2,375.8L330.2,375.8L332.6,372.3L336.2,370.5L343.4,368.1L344.6,365.1L341.6,363.9L342.2,360.9L341.9,360.5L339.8,356.7L337.4,349.4L332.6,347.6L327.8,347.0L327.8,347.0L326.8,344.2L326.0,340.2ZM302.1,210.0L303.2,205.3L303.5,202.9L303.5,202.9L296.0,205.6L290.0,204.1L284.0,201.5L283.0,199.6L279.8,197.2L278.3,198.1L277.6,198.4L277.6,198.4L277.4,199.0L272.6,200.2L269.6,202.0L270.2,205.6L268.4,209.2L269.0,213.5L266.6,217.1L263.9,220.1L265.1,224.9L264.7,228.5L264.9,228.5L270.2,230.3L276.2,227.3L282.2,226.1L283.9,225.9L284.0,226.4L284.3,226.7L287.6,230.0L291.2,231.2L295.4,232.1L299.6,229.7L302.1,225.4L300.2,220.6L300.8,215.8L302.7,212.1L302.1,210.0ZM326.7,396.8L326.6,397.0L324.2,400.6L323.6,405.4L325.4,409.1L326.6,413.3L328.1,413.5L329.1,413.7L330.0,413.9L330.1,414.3L338.4,413.5L346.8,413.1L355.1,413.5L363.5,413.1L363.6,413.1L364.3,408.5L357.6,400.1L356.0,395.9L356.8,391.8L359.3,386.7L360.1,386.2L359.3,385.1L362.7,380.1L362.2,378.4L360.0,378.9L351.8,383.1L347.0,384.9L342.2,383.7L337.4,385.5L333.8,387.9L333.8,387.9L333.8,387.9L332.5,391.7L331.7,394.9L328.5,395.7L327.3,396.7L327.3,396.7L327.3,396.9L326.7,396.8ZM255.8,183.1L256.1,186.7L256.4,189.1L256.4,195.0L255.8,196.5L255.6,197.3L254.6,199.0L252.1,202.0L252.8,205.6L254.6,208.1L256.4,211.1L257.0,211.1L259.4,214.7L263.9,220.1L266.6,217.1L269.0,213.5L268.4,209.2L270.2,205.6L269.6,202.0L272.6,200.2L277.4,199.0L277.6,198.4L277.6,198.4L278.3,198.1L277.9,197.3L278.0,195.0L279.8,190.3L284.4,181.3L283.7,176.8L283.7,176.5L282.8,174.9L281.5,172.6L282.2,170.4L281.9,170.2L276.8,170.9L268.5,172.5L260.1,173.3L256.0,172.3L255.8,183.1ZM288.0,256.4L287.0,258.2L285.2,263.1L281.6,276.9L283.4,279.9L285.6,281.7L285.8,281.7L286.5,285.0L285.0,288.4L293.6,289.5L296.0,291.9L299.6,291.3L303.2,289.5L312.9,290.7L315.3,286.5L317.7,282.9L318.9,279.2L316.5,274.4L314.1,270.8L314.7,266.0L314.5,265.9L313.7,267.3L311.7,266.9L309.6,263.7L307.6,264.1L304.8,263.3L303.2,261.3L304.0,259.2L302.8,256.8L300.4,253.6L297.6,251.2L295.3,250.5L294.8,250.4L294.4,250.7L292.4,252.0L289.5,252.4L289.5,252.6L288.8,254.5L288.0,256.4L288.0,256.4ZM334.1,335.4L337.3,335.8L340.5,337.0L343.7,333.8L346.1,330.6L347.3,329.4L349.3,332.2L351.7,334.6L354.1,335.0L355.3,334.2L355.5,334.2L355.1,332.6L358.5,330.1L360.2,326.8L357.6,323.4L354.3,320.1L356.0,316.7L355.1,312.6L351.8,310.9L345.1,311.4L340.9,312.1L338.1,316.7L336.0,316.6L335.2,319.9L333.0,319.4L331.8,319.2L333.4,316.5L332.3,314.6L332.3,314.5L334.5,310.5L335.1,306.3L336.3,303.3L338.6,298.7L336.6,297.7L335.7,295.5L332.1,293.1L332.1,290.1L329.7,286.5L326.7,282.9L323.1,279.9L318.9,279.2L317.7,282.9L315.3,286.5L312.9,290.7L315.3,294.9L316.5,299.7L317.1,304.5L315.9,308.1L315.5,311.5L315.0,312.1L318.6,315.0L322.2,315.6L324.6,314.4L328.2,316.2L330.1,315.3L330.3,315.4L328.2,324.1L328.8,328.9L328.6,330.5L329.2,330.6L331.7,333.8L334.1,335.4Z" fill="#4dc0cc" stroke="#fff" stroke-width="0.9" stroke-linejoin="round"/>
<path d="M146.4,324.9L146.3,324.3L144.9,322.6L143.3,323.9L143.4,324.3L144.4,325.3L146.4,324.9ZM232.5,219.2L234.1,221.3L234.1,221.3L236.5,221.7L236.5,221.5L236.5,218.9L232.9,218.9L232.5,219.2ZM234.1,216.2L232.3,218.9L232.5,219.2L232.9,218.9L236.5,218.9L236.5,215.9L234.1,216.2ZM236.5,221.7L237.7,221.9L240.7,220.1L241.2,218.9L236.5,218.9L236.5,221.5L236.5,221.7ZM241.2,218.9L241.2,218.8L241.9,217.1L238.9,215.5L236.5,215.9L236.5,215.9L236.5,218.9L241.2,218.9ZM353.9,257.6L353.5,257.4L352.0,256.1L350.2,255.1L350.4,257.2L350.8,260.0L350.8,260.0L350.8,260.0L351.4,266.0L355.0,268.4L358.0,268.7L358.3,268.8L358.3,268.7L358.3,268.7L357.8,265.0L357.4,261.6L357.4,261.6L355.0,258.5L353.9,257.6ZM234.1,208.7L229.3,207.4L223.9,208.1L219.7,209.2L217.2,211.1L216.1,212.9L220.9,212.3L225.7,214.1L234.1,216.2L236.5,215.9L236.5,215.9L238.9,215.5L241.9,217.1L241.2,218.8L241.2,218.9L240.7,220.1L237.7,221.9L241.3,229.7L241.4,229.7L241.9,221.3L243.1,211.7L243.2,211.4L238.9,209.2L234.1,208.7ZM228.1,241.7L231.7,241.1L236.5,242.3L237.2,242.9L238.3,241.5L238.9,239.3L240.7,235.7L241.3,230.9L241.4,229.7L241.3,229.7L237.7,221.9L236.5,221.7L234.1,221.3L234.1,221.5L230.5,227.3L228.7,231.5L226.3,235.7L228.1,241.7ZM216.1,218.3L217.8,222.5L219.7,228.5L222.1,232.1L226.3,235.7L228.7,231.5L230.5,227.3L234.1,221.5L234.1,221.3L234.1,221.3L232.5,219.2L232.3,218.9L234.1,216.2L225.7,214.1L220.9,212.3L216.1,212.9L215.4,215.9L216.1,218.3ZM299.3,317.4L295.7,316.8L291.5,318.1L288.5,321.1L289.1,325.3L290.9,330.1L292.1,334.9L292.7,339.7L293.9,343.3L298.1,342.1L301.1,341.7L306.6,340.9L309.0,337.3L302.9,331.3L300.5,327.7L299.3,317.4ZM364.5,420.1L369.4,417.6L368.5,415.1L371.9,411.8L381.9,399.3L382.7,395.1L379.4,392.6L375.2,394.3L370.2,393.4L365.2,390.9L361.0,387.6L360.1,386.2L359.3,386.7L356.8,391.8L356.0,395.9L357.6,400.1L364.3,408.5L363.6,413.1L363.5,413.5L363.5,416.8L364.3,419.8L364.5,420.1ZM183.0,198.7L179.4,200.5L171.6,203.5L167.3,201.7L162.5,201.1L157.7,199.9L150.5,198.7L150.5,198.9L152.3,202.3L155.3,204.7L155.9,208.3L157.1,211.9L155.3,215.5L152.9,217.9L151.7,219.8L156.5,221.6L158.3,220.7L158.6,220.5L160.1,219.8L164.9,217.9L169.8,219.1L174.6,219.1L179.4,216.6L184.1,215.4L187.7,215.8L188.5,213.7L188.4,210.7L186.0,201.1L187.2,197.5L183.0,198.7ZM297.8,413.9L291.7,421.1L290.5,424.1L290.5,424.2L293.6,423.4L297.8,426.7L299.9,426.7L300.0,426.8L310.0,429.4L317.6,430.2L320.9,433.5L329.2,433.5L330.0,433.7L330.1,433.5L330.9,426.8L329.2,421.8L330.1,416.0L329.1,413.7L328.1,413.5L326.6,413.3L319.4,413.3L312.2,413.9L305.0,413.3L297.8,413.9ZM330.0,413.9L329.1,413.7L330.1,416.0L329.2,421.8L330.9,426.8L330.1,433.5L330.0,433.7L333.4,434.4L340.1,435.2L341.8,437.7L346.0,434.4L349.3,430.2L355.1,428.5L356.8,425.2L361.0,423.5L364.3,420.2L364.5,420.1L364.3,419.8L363.5,416.8L363.5,413.5L363.6,413.1L363.5,413.1L355.1,413.5L346.8,413.1L338.4,413.5L330.1,414.3L330.0,413.9ZM200.0,427.3L193.2,427.7L191.2,429.7L189.0,433.1L189.0,433.1L189.0,433.1L185.4,435.5L186.0,440.4L187.1,444.5L185.0,445.0L185.0,445.2L185.5,450.3L185.5,453.5L185.5,453.9L189.9,453.5L190.1,449.7L190.0,447.6L195.1,447.3L196.3,443.6L199.3,441.8L198.7,438.2L201.7,436.4L206.6,437.0L207.2,433.4L209.0,430.4L212.6,432.2L216.2,432.8L219.8,431.0L220.4,431.0L222.2,427.4L224.6,425.0L226.6,424.6L225.3,423.3L222.0,418.8L217.3,415.0L217.2,415.0L217.2,415.0L216.1,412.1L213.6,409.8L211.2,410.4L207.6,412.8L202.8,410.9L200.1,411.3L201.0,412.2L200.4,412.8L201.4,413.9L204.1,416.8L205.7,419.6L203.3,421.7L201.3,424.1L200.0,427.3ZM256.4,211.1L253.3,211.1L248.5,212.3L243.7,211.7L243.2,211.4L243.1,211.7L241.9,221.3L241.4,229.7L241.3,230.9L240.7,235.7L238.9,239.3L238.3,241.5L237.2,242.9L240.1,245.3L242.5,247.8L246.1,247.2L250.9,245.3L252.2,244.3L253.9,242.9L255.2,240.5L258.2,238.7L262.4,238.1L263.6,235.1L264.4,230.9L264.7,228.5L265.1,224.9L263.9,220.1L259.4,214.7L257.0,211.1L256.4,211.1ZM199.2,302.7L199.1,301.7L198.9,301.7L198.3,300.3L195.0,292.4L192.0,289.4L189.0,291.2L184.8,290.6L183.0,287.6L179.4,286.4L176.4,284.0L176.4,284.0L174.1,285.4L174.3,285.8L176.4,291.8L177.0,296.7L176.0,302.7L175.5,308.7L177.0,313.5L179.1,316.5L179.4,320.7L181.8,323.7L181.8,323.7L181.9,323.7L184.4,324.1L188.1,322.3L191.7,322.9L195.9,322.3L197.1,319.9L200.1,316.2L205.1,313.0L205.8,312.3L202.5,309.0L199.5,304.8L199.2,302.7ZM144.5,315.3L145.1,318.3L143.9,321.3L144.9,322.6L146.3,324.3L146.4,324.9L146.9,327.9L143.3,334.0L142.1,335.0L142.1,335.1L141.5,337.8L143.5,341.1L148.1,343.2L152.3,348.6L154.2,352.5L154.7,352.3L158.3,352.3L160.7,353.5L162.5,355.9L165.5,358.9L169.8,361.0L174.0,361.9L174.0,358.9L173.8,358.8L167.1,353.5L166.1,349.9L166.8,345.6L163.1,339.0L163.7,336.0L168.6,333.6L171.0,330.0L171.2,330.1L171.6,328.5L167.3,325.5L162.5,323.1L158.3,320.1L155.9,314.5L155.9,314.1L152.9,314.1L148.1,313.7L144.5,315.3ZM243.2,429.6L247.2,430.7L252.0,432.5L259.5,434.3L259.7,434.9L263.5,433.4L268.5,430.9L278.5,424.2L281.9,421.4L285.6,422.4L285.7,421.9L286.9,418.7L286.3,415.1L283.9,412.1L276.1,406.7L271.3,405.4L265.9,406.6L265.9,406.7L265.9,406.7L261.7,409.1L258.1,411.5L253.2,413.9L248.4,415.7L246.6,418.7L246.6,418.7L246.0,421.1L243.0,429.5L243.2,429.6ZM154.2,352.5L154.3,352.9L155.3,358.3L155.6,362.5L152.7,354.1L150.3,350.4L146.9,346.8L144.5,343.5L143.0,349.2L141.1,364.9L140.6,370.9L139.9,375.7L141.5,375.1L143.9,376.3L145.1,377.8L142.1,377.8L140.3,378.4L139.1,381.7L138.9,382.9L139.1,382.9L143.3,382.3L146.9,384.1L151.7,385.9L156.5,386.6L160.1,389.0L162.5,390.0L162.5,390.1L164.0,393.2L165.5,395.2L168.6,394.0L172.2,390.1L172.2,390.0L173.4,385.4L174.6,381.7L175.2,381.1L177.0,378.1L179.4,373.3L178.2,370.3L175.8,366.1L174.0,361.9L169.8,361.0L165.5,358.9L162.5,355.9L160.7,353.5L158.3,352.3L154.7,352.3L154.2,352.5Z" fill="#2ba2ad" stroke="#fff" stroke-width="0.9" stroke-linejoin="round"/>
<path d="M111.7,276.7L111.7,276.7L111.7,276.7L111.7,276.7L111.7,276.7L111.7,276.7L111.7,276.7L111.7,276.7L111.7,276.7L111.7,276.7L111.7,276.7L111.6,276.7L111.6,276.7L111.6,276.7L111.6,276.7L111.6,276.7L111.6,276.7L111.6,276.7L111.6,276.7L111.6,276.7L111.6,276.7L111.6,276.7L111.6,276.7L111.6,276.7L111.6,276.7L111.6,276.7L111.6,276.7L111.6,276.7L111.6,276.8L112.0,277.4L112.0,277.4L112.0,277.4L112.0,277.4L112.0,277.4L112.0,277.5L112.0,277.5L112.0,277.5L112.0,277.5L112.0,277.5L112.0,277.5L112.4,277.5L115.3,280.4L115.3,280.4L115.3,280.4L115.3,280.4L115.3,280.4L115.3,280.4L117.4,281.1L118.6,284.0L118.6,284.0L118.6,284.0L118.6,284.1L118.6,284.1L118.6,284.1L118.6,284.1L120.1,285.0L118.9,286.8L118.9,286.8L118.9,286.8L118.9,286.8L118.9,286.8L118.9,286.8L118.9,286.8L118.9,286.8L118.9,286.8L118.9,286.8L119.2,288.0L119.2,288.0L119.2,288.0L119.2,288.0L119.2,288.0L119.2,288.0L119.2,288.0L119.2,288.0L119.2,288.0L119.2,288.0L121.1,288.8L120.4,290.6L120.4,290.6L120.4,290.6L120.4,290.6L119.8,294.8L119.8,294.8L119.8,294.9L119.8,294.9L119.8,294.9L119.8,294.9L119.8,294.9L119.8,294.9L119.8,294.9L119.8,294.9L122.8,298.5L125.2,302.1L127.6,306.3L127.6,306.3L127.6,306.3L127.6,306.3L127.6,306.3L131.2,309.3L131.2,309.3L138.4,314.1L138.4,314.1L138.5,314.1L142.7,316.0L142.7,316.0L142.7,316.0L142.7,316.0L142.7,316.0L142.7,316.0L142.7,316.0L142.7,316.0L144.5,315.4L145.0,318.3L143.8,321.3L143.8,321.3L143.8,321.3L143.8,321.3L143.8,321.3L143.8,321.3L143.8,321.3L143.8,321.3L143.8,321.3L143.8,321.3L143.8,321.3L143.9,321.4L144.9,322.6L143.3,323.9L143.2,323.9L143.2,323.9L143.2,323.9L143.2,323.9L143.2,323.9L143.2,323.9L143.2,323.9L143.2,323.9L143.2,323.9L143.2,323.9L143.2,323.9L143.2,323.9L143.4,324.4L143.4,324.4L143.4,324.4L143.4,324.4L143.4,324.4L143.4,324.4L144.3,325.3L144.3,325.3L144.3,325.3L144.3,325.3L144.3,325.3L144.3,325.3L144.4,325.3L144.4,325.3L144.4,325.3L144.4,325.3L144.4,325.3L146.4,325.0L146.8,327.9L143.2,333.9L142.0,335.0L142.0,335.0L142.0,335.0L142.0,335.0L142.0,335.0L142.0,335.0L142.0,335.0L142.0,335.0L142.0,335.0L142.0,335.0L142.0,335.0L141.4,337.8L141.4,337.8L141.4,337.8L141.4,337.8L141.4,337.8L141.4,337.8L141.4,337.8L141.4,337.8L141.4,337.8L143.5,341.1L143.5,341.1L143.5,341.1L143.5,341.1L143.5,341.1L143.5,341.1L143.5,341.1L148.1,343.3L152.3,348.7L154.1,352.5L154.3,352.9L155.3,358.3L155.5,362.1L152.7,354.0L152.7,354.0L152.7,354.0L152.7,354.0L150.3,350.4L150.3,350.4L150.3,350.4L146.9,346.8L144.5,343.5L144.5,343.4L144.5,343.4L144.5,343.4L144.5,343.4L144.5,343.4L144.5,343.4L144.5,343.4L144.5,343.4L144.5,343.4L144.5,343.4L144.5,343.4L144.5,343.4L144.5,343.4L144.5,343.4L144.5,343.4L144.5,343.4L144.5,343.4L144.5,343.4L144.4,343.5L144.4,343.5L144.4,343.5L144.4,343.5L144.4,343.5L143.0,349.2L143.0,349.2L141.1,364.9L141.1,364.9L140.6,370.9L139.9,375.7L139.9,375.7L139.9,375.7L139.9,375.7L139.9,375.7L139.9,375.7L139.9,375.7L139.9,375.7L139.9,375.8L139.9,375.8L139.9,375.8L139.9,375.8L139.9,375.8L139.9,375.8L139.9,375.8L139.9,375.8L139.9,375.8L139.9,375.8L139.9,375.8L139.9,375.8L139.9,375.8L139.9,375.8L141.5,375.2L143.9,376.4L145.0,377.7L142.1,377.7L142.1,377.7L142.1,377.7L142.1,377.7L140.3,378.3L140.3,378.3L140.3,378.3L140.3,378.3L140.2,378.3L140.2,378.3L140.2,378.3L140.2,378.3L140.2,378.3L140.2,378.4L139.0,381.7L139.0,381.7L139.0,381.7L138.9,382.9L137.8,390.0L137.2,392.2L137.2,392.2L133.6,409.0L131.8,416.3L129.9,419.3L128.8,421.1L125.2,424.1L122.2,425.9L122.2,425.9L122.2,425.9L122.2,425.9L122.2,425.9L122.2,425.9L122.2,425.9L122.2,425.9L122.2,425.9L122.2,425.9L122.2,425.9L122.2,425.9L122.2,425.9L122.2,425.9L122.2,425.9L122.2,425.9L122.2,425.9L122.2,425.9L124.0,428.3L124.0,428.4L124.0,428.4L124.0,428.4L124.0,428.4L124.0,428.4L124.0,428.4L124.0,428.4L127.0,429.0L130.6,431.4L130.6,431.4L133.0,432.6L130.6,437.9L130.6,437.9L130.6,437.9L130.6,437.9L130.6,437.9L130.6,437.9L130.6,437.9L130.6,438.0L130.6,438.0L130.6,438.0L130.6,438.0L130.6,438.0L130.6,438.0L130.6,438.0L130.6,438.0L130.6,438.0L130.6,438.0L130.6,438.0L130.6,438.0L130.6,438.0L130.6,438.0L130.7,438.0L130.7,438.0L130.7,438.0L130.7,438.0L134.2,436.8L136.0,438.6L136.0,438.6L136.0,438.6L136.0,438.6L136.0,438.6L140.3,440.4L140.3,440.4L144.5,441.6L151.7,445.1L153.0,447.0L153.0,447.0L153.0,447.0L153.0,447.0L155.9,449.3L155.9,449.3L155.9,449.3L155.9,449.3L155.9,449.3L156.0,449.3L156.0,449.3L156.0,449.3L156.0,449.3L160.1,448.8L160.1,448.8L160.1,448.8L160.2,448.8L162.6,447.7L166.8,449.3L169.3,452.7L169.3,452.7L169.3,452.7L169.3,452.7L169.3,452.7L169.3,452.7L169.3,452.7L169.3,452.7L173.5,453.5L173.5,453.5L173.5,453.5L173.5,453.5L173.5,453.5L173.5,453.5L173.5,453.5L173.5,453.5L176.8,451.9L180.2,454.4L180.2,454.4L180.2,454.4L180.2,454.4L180.2,454.4L180.2,454.4L180.2,454.4L180.2,454.4L185.5,453.9L189.9,453.5L189.9,453.5L189.9,453.5L189.9,453.5L189.9,453.5L189.9,453.5L189.9,453.5L189.9,453.5L189.9,453.5L189.9,453.5L189.9,453.5L189.9,453.5L189.9,453.5L189.9,453.5L189.9,453.5L190.2,449.7L190.2,449.7L190.0,447.6L195.1,447.3L196.9,448.5L196.9,448.5L196.9,448.5L196.9,448.5L201.6,450.2L205.2,453.2L205.2,453.2L205.2,453.2L205.2,453.2L205.2,453.2L205.2,453.2L205.2,453.2L210.3,453.9L214.4,456.5L214.4,456.5L214.4,456.5L219.4,458.2L220.5,459.3L220.4,459.5L220.4,459.5L220.3,459.5L220.3,459.5L220.3,459.5L220.3,459.5L220.3,459.5L220.3,459.5L220.3,459.5L220.3,459.5L220.3,459.5L220.3,459.5L220.3,459.5L220.3,459.6L220.3,459.6L220.4,459.6L220.4,459.6L220.4,459.6L220.4,459.6L220.4,459.6L220.4,459.6L220.4,459.6L220.4,459.6L220.4,459.6L220.4,459.6L220.4,459.6L220.4,459.6L220.4,459.6L220.4,459.6L220.4,459.6L220.4,459.6L220.6,459.5L225.3,464.4L227.6,467.7L227.6,467.7L227.6,467.7L227.6,467.7L227.6,467.7L227.6,467.7L227.6,467.7L227.6,467.7L227.6,467.7L227.6,467.7L227.6,467.7L227.6,467.7L227.6,467.7L227.6,467.7L227.6,467.7L227.6,467.7L227.7,467.7L230.9,465.2L235.9,464.4L240.1,466.1L242.6,468.2L242.6,468.2L242.6,468.2L242.6,468.2L242.6,468.2L242.6,468.2L242.6,468.2L242.6,468.2L242.6,468.2L242.6,468.2L242.6,468.2L242.6,468.2L242.6,468.2L242.6,468.2L246.0,466.1L253.5,463.2L257.6,464.4L257.6,464.4L257.6,464.4L257.7,464.4L257.7,464.4L257.7,464.4L257.7,464.4L257.7,464.4L257.7,464.4L257.7,464.4L257.7,464.4L257.7,464.4L259.4,462.7L259.4,462.7L259.4,462.7L259.4,462.7L259.4,462.7L259.4,462.7L259.4,462.7L259.4,462.7L259.4,462.7L259.4,462.7L259.4,462.7L259.4,462.7L259.4,462.7L259.4,462.6L259.4,462.6L257.7,460.1L256.9,455.1L256.0,448.5L256.0,440.9L256.0,440.9L256.0,440.9L256.0,440.9L256.0,440.9L256.0,440.9L256.0,440.9L254.4,438.5L256.8,437.6L256.8,437.6L256.8,437.6L256.8,437.6L256.9,437.6L256.9,437.6L259.3,435.1L259.7,435.0L263.5,433.5L263.5,433.5L268.5,431.0L268.5,431.0L278.6,424.3L278.6,424.3L281.9,421.4L285.6,422.5L286.0,422.6L290.2,424.3L290.2,424.3L290.2,424.3L290.2,424.3L290.2,424.3L290.2,424.3L290.3,424.3L290.6,424.2L293.6,423.5L297.7,426.8L297.7,426.8L297.7,426.8L297.7,426.8L297.7,426.8L297.8,426.8L297.8,426.8L297.8,426.8L299.9,426.8L300.0,426.9L300.0,426.9L300.0,426.9L300.0,426.9L300.0,426.9L300.0,426.9L300.0,426.9L300.0,426.9L310.0,429.4L310.0,429.4L317.5,430.2L320.9,433.6L320.9,433.6L320.9,433.6L320.9,433.6L320.9,433.6L320.9,433.6L320.9,433.6L320.9,433.6L320.9,433.6L329.2,433.6L330.0,433.7L333.4,434.4L333.4,434.4L340.1,435.2L341.7,437.7L341.7,437.7L341.7,437.7L341.7,437.7L341.8,437.8L341.8,437.8L341.8,437.8L341.8,437.8L341.8,437.8L341.8,437.8L341.8,437.8L341.8,437.8L341.8,437.8L341.8,437.8L341.8,437.8L341.8,437.8L341.8,437.8L341.8,437.7L346.0,434.4L346.0,434.4L346.0,434.4L349.3,430.2L355.2,428.6L355.2,428.6L355.2,428.6L355.2,428.6L355.2,428.6L355.2,428.6L355.2,428.6L355.2,428.5L355.2,428.5L356.9,425.2L361.0,423.5L361.0,423.5L361.0,423.5L361.0,423.5L361.0,423.5L364.4,420.2L364.5,420.1L369.4,417.7L369.4,417.7L369.4,417.7L369.4,417.7L369.4,417.7L369.4,417.7L369.4,417.7L369.4,417.7L369.4,417.7L369.4,417.7L369.4,417.7L369.4,417.7L369.4,417.6L369.4,417.6L369.4,417.6L369.4,417.6L368.6,415.2L371.9,411.8L371.9,411.8L381.9,399.3L381.9,399.3L381.9,399.3L381.9,399.3L381.9,399.3L381.9,399.3L382.8,395.1L382.8,395.1L382.8,395.1L382.8,395.1L382.8,395.1L382.8,395.1L382.8,395.1L382.8,395.1L382.8,395.1L382.8,395.1L382.8,395.1L382.7,395.0L379.4,392.5L379.4,392.5L379.4,392.5L379.4,392.5L379.4,392.5L379.4,392.5L379.4,392.5L379.4,392.5L379.4,392.5L379.4,392.5L379.4,392.5L375.2,394.2L370.2,393.4L365.2,390.9L361.0,387.5L360.1,386.2L359.4,385.1L362.7,380.1L362.7,380.1L362.7,380.1L362.7,380.1L362.7,380.1L362.7,380.1L362.7,380.1L362.7,380.0L362.7,380.0L362.7,380.0L362.3,378.3L361.9,376.7L364.3,374.0L364.3,374.1L364.3,374.1L364.3,374.1L364.3,374.1L364.3,374.1L364.3,374.1L364.3,374.1L364.3,374.1L364.3,374.1L364.3,374.1L364.4,374.1L364.4,374.1L364.4,374.1L364.4,374.1L364.4,374.1L364.4,374.1L364.4,374.1L364.4,374.1L364.4,374.1L364.4,374.1L364.4,374.1L364.4,374.1L364.4,374.1L364.4,374.1L364.4,374.1L364.4,374.1L364.4,374.0L364.4,374.0L364.4,374.0L364.4,374.0L364.3,374.0L364.4,373.9L364.4,373.9L364.4,373.9L364.4,373.9L364.4,373.9L364.4,373.9L364.4,373.9L364.4,373.9L364.4,373.9L364.4,373.9L364.4,373.9L364.4,373.9L364.4,373.8L364.4,373.8L364.4,373.8L364.4,373.8L364.4,373.8L364.4,373.8L364.4,373.8L364.4,373.8L364.4,373.8L364.4,373.8L364.3,373.8L364.3,373.8L364.3,373.8L364.3,373.8L364.3,373.8L364.3,373.8L364.3,373.8L364.3,373.8L364.3,373.9L361.9,370.2L361.9,370.2L361.9,370.2L361.9,370.2L361.9,370.2L361.9,370.2L357.7,367.7L354.4,363.5L351.9,359.5L352.2,359.5L352.2,359.5L352.2,359.5L352.2,359.5L352.2,359.5L352.2,359.5L352.2,359.5L352.2,359.5L352.2,359.5L352.2,359.5L352.2,359.5L352.2,359.5L352.2,359.4L352.2,359.4L352.2,359.4L352.2,359.4L352.2,359.4L352.2,359.4L352.2,359.4L352.2,359.3L355.2,358.6L355.2,358.6L355.2,358.6L355.2,358.6L355.2,358.6L355.2,358.6L355.2,358.6L358.5,355.2L363.5,352.7L363.5,352.7L363.5,352.7L363.5,352.7L363.5,352.7L363.5,352.7L363.5,352.7L363.5,352.7L363.5,352.7L365.2,347.7L365.2,347.7L365.2,347.7L365.2,347.7L365.2,347.6L365.2,347.6L365.2,347.6L365.2,347.6L365.2,347.6L365.2,347.6L360.2,339.3L360.2,339.3L360.2,339.3L360.2,339.3L360.2,339.3L360.2,339.3L356.0,336.8L355.5,334.2L355.2,332.6L358.5,330.2L358.5,330.1L358.5,330.1L358.5,330.1L358.5,330.1L358.5,330.1L360.2,326.8L360.2,326.8L360.2,326.8L360.2,326.8L360.2,326.8L360.2,326.8L360.2,326.8L360.2,326.7L360.2,326.7L360.2,326.7L360.2,326.7L360.2,326.7L357.7,323.4L357.7,323.4L354.4,320.1L356.0,316.8L356.0,316.8L356.0,316.8L356.0,316.7L356.0,316.7L356.0,316.7L356.0,316.7L356.0,316.7L355.2,312.6L355.2,312.5L355.2,312.5L355.2,312.5L355.2,312.5L355.2,312.5L355.2,312.5L355.2,312.5L355.2,312.5L355.2,312.5L351.8,310.8L351.8,310.8L351.8,310.8L351.8,310.8L351.8,310.8L351.8,310.8L345.1,311.3L345.1,311.3L340.9,312.0L340.9,312.0L340.9,312.0L340.9,312.0L340.9,312.0L340.9,312.0L340.9,312.0L340.9,312.0L340.9,312.0L340.9,312.0L338.1,316.7L336.0,316.5L336.0,316.5L336.0,316.5L336.0,316.5L336.0,316.5L336.0,316.5L336.0,316.5L336.0,316.5L335.9,316.5L335.9,316.5L335.9,316.5L335.9,316.5L335.9,316.5L335.9,316.5L335.9,316.5L335.9,316.5L335.1,319.9L333.0,319.3L333.0,319.3L331.8,319.2L333.5,316.5L333.5,316.5L333.5,316.5L333.5,316.5L333.5,316.5L333.5,316.5L333.5,316.5L333.5,316.5L333.5,316.4L333.5,316.4L333.5,316.4L333.5,316.4L332.4,314.6L332.3,314.5L334.6,310.6L334.6,310.6L334.6,310.5L334.6,310.5L334.6,310.5L335.2,306.3L336.4,303.3L338.7,298.8L338.8,298.5L341.8,294.9L341.8,294.9L341.8,294.9L341.8,294.9L341.8,294.9L343.0,290.7L349.0,283.5L352.6,280.5L352.6,280.5L355.0,278.1L355.0,278.1L355.0,278.1L357.4,274.5L357.4,274.5L357.4,274.5L357.4,274.5L357.4,274.5L357.4,274.4L357.4,274.4L357.4,274.4L357.4,274.4L357.4,274.4L357.4,274.4L357.4,274.4L356.2,272.0L358.0,268.7L358.2,268.8L361.0,270.3L361.0,270.3L361.0,270.3L361.0,270.3L361.0,270.3L361.0,270.3L365.8,270.3L365.8,270.3L365.8,270.3L365.8,270.3L365.8,270.3L365.8,270.3L365.8,270.3L365.9,270.3L369.5,267.3L369.5,267.3L369.5,267.3L369.5,267.2L369.5,267.2L369.5,267.2L369.5,267.2L370.7,262.4L370.7,262.4L370.7,262.4L370.7,262.4L370.7,262.4L370.7,262.4L370.7,262.4L370.7,262.4L370.7,262.4L370.7,262.4L370.7,262.4L370.7,262.4L370.7,262.4L370.7,262.4L370.7,262.4L370.6,262.4L368.7,261.6L368.2,260.9L369.4,255.9L369.4,255.9L369.9,250.1L369.9,250.1L369.9,250.1L369.9,250.1L368.9,245.1L370.8,241.3L371.1,240.9L371.1,240.9L371.1,240.9L371.1,240.9L372.2,234.1L372.2,234.1L372.2,234.1L372.2,234.1L372.2,234.1L372.2,234.1L372.2,234.1L372.2,234.1L372.2,234.1L372.2,234.1L372.2,234.1L372.2,234.1L372.2,234.1L372.3,233.9L375.2,223.6L378.6,219.4L378.6,219.4L381.9,214.4L381.9,214.4L381.9,214.4L383.6,210.5L383.6,210.5L383.6,210.5L383.6,210.5L383.6,210.5L383.6,210.5L383.6,210.5L383.6,210.5L383.6,210.5L383.6,210.5L383.6,210.5L383.6,210.5L383.6,210.5L383.6,210.5L383.6,210.4L383.6,210.4L383.6,210.4L383.6,210.4L378.6,208.8L378.6,208.8L376.0,208.2L376.0,208.2L376.0,208.2L376.0,208.2L376.0,208.2L376.0,208.2L376.0,208.2L374.0,208.9L370.6,208.3L370.1,208.1L370.7,206.5L370.7,206.5L370.7,206.4L370.7,206.4L370.7,206.4L370.7,206.4L370.7,206.4L370.7,206.4L370.7,206.4L370.7,206.4L370.7,206.4L370.7,206.4L370.7,206.4L370.7,206.4L370.7,206.4L370.7,206.4L370.6,206.4L370.6,206.4L370.6,206.4L370.6,206.4L370.6,206.4L370.6,206.4L370.6,206.4L370.6,206.4L370.6,206.4L370.6,206.4L370.6,206.4L370.6,206.4L370.6,206.4L369.3,207.8L361.0,204.7L361.0,204.7L361.0,204.7L361.0,204.7L361.0,204.7L361.0,204.7L361.0,204.7L361.0,204.7L357.4,205.9L353.8,204.7L349.6,202.9L349.6,202.9L349.6,202.9L349.6,202.9L349.6,202.9L349.6,202.9L349.6,202.9L349.6,202.9L349.6,202.9L349.5,202.9L349.5,202.9L349.5,202.9L346.6,205.3L343.6,202.3L341.8,198.1L341.8,198.1L340.0,195.1L340.0,195.1L340.0,195.1L340.0,195.1L340.0,195.1L340.0,195.1L340.0,195.1L340.0,195.1L340.0,195.1L340.0,195.1L334.5,194.5L330.3,193.3L330.3,193.3L330.3,193.3L330.3,193.3L330.3,193.3L330.3,193.3L330.3,193.3L330.3,193.3L326.1,195.1L325.0,194.3L322.5,192.7L322.5,192.7L322.5,192.7L322.5,192.7L318.9,191.5L318.9,191.5L318.9,191.5L318.9,191.5L318.9,191.5L318.9,191.5L318.9,191.5L318.9,191.5L313.7,193.2L313.5,193.3L311.1,190.9L310.5,190.3L308.1,186.7L308.1,186.7L308.1,186.7L308.1,186.7L308.1,186.7L308.1,186.7L308.1,186.7L303.9,184.8L300.3,182.5L299.1,178.9L297.9,174.1L298.5,170.5L298.5,170.5L298.5,170.4L298.5,170.4L298.5,170.4L298.5,170.4L298.5,170.4L298.5,170.4L298.5,170.4L298.5,170.4L298.5,170.4L298.5,170.4L298.5,170.4L298.5,170.4L298.5,170.4L298.5,170.4L296.0,169.8L296.0,169.8L296.0,169.8L296.0,169.8L296.0,169.8L296.0,169.8L296.0,169.8L296.0,169.8L296.0,169.8L296.0,169.8L296.0,169.8L296.0,169.8L294.2,171.6L294.2,171.6L294.2,171.6L294.2,171.6L292.6,174.6L288.6,178.2L284.0,176.7L283.7,176.5L282.8,174.9L282.8,174.9L281.6,172.6L282.3,170.4L282.9,168.4L282.9,168.4L282.9,168.4L282.9,168.4L282.9,168.4L282.9,168.4L282.9,168.4L282.9,168.4L282.9,168.4L282.9,168.4L282.9,168.4L282.9,168.4L280.2,165.4L280.2,165.4L280.2,165.4L280.2,165.4L280.2,165.4L280.2,165.4L280.2,165.4L280.2,165.4L273.9,164.4L269.5,162.7L268.5,158.7L268.5,158.7L268.5,158.7L268.5,158.7L268.5,158.7L268.5,158.7L268.5,158.7L268.5,158.7L268.5,158.7L268.5,158.7L268.5,158.7L265.2,157.5L259.5,155.0L257.7,149.2L257.7,149.2L257.7,149.2L257.7,149.2L257.7,149.2L257.7,149.2L257.7,149.2L257.7,149.2L257.7,149.2L257.6,149.2L257.6,149.2L257.6,149.2L251.8,148.3L251.8,148.3L251.8,148.3L251.8,148.3L251.8,148.3L251.8,148.3L251.8,148.3L251.8,148.3L251.7,148.3L251.7,148.3L251.7,148.3L249.6,151.0L247.6,147.5L247.6,147.5L247.6,147.5L244.6,144.2L243.0,139.7L241.8,135.7L241.8,135.7L241.8,135.6L241.8,135.6L241.8,135.6L241.8,135.6L241.8,135.6L241.8,135.6L241.8,135.6L241.8,135.6L241.8,135.6L241.8,135.6L241.8,135.6L241.8,135.6L241.7,135.6L241.7,135.6L230.6,137.9L226.7,138.6L226.7,138.6L226.7,138.6L219.3,141.6L219.3,141.6L219.3,141.6L219.3,141.6L219.3,141.6L219.3,141.6L219.3,141.7L217.0,145.0L217.0,145.0L217.0,145.0L217.0,145.0L217.0,145.0L217.0,145.0L217.0,145.0L217.0,155.1L217.0,155.1L217.2,163.3L217.3,166.8L217.3,166.8L217.3,166.8L218.2,170.5L216.9,168.5L216.9,168.4L216.9,168.4L216.9,168.4L216.9,168.4L216.9,168.4L216.9,168.4L216.9,168.4L216.9,168.4L216.9,168.4L216.9,168.4L216.9,168.4L216.9,168.4L216.9,168.4L216.9,168.4L216.9,168.4L216.9,168.4L216.9,168.4L216.9,168.4L214.9,170.4L214.9,170.4L214.9,170.4L212.7,173.6L212.5,173.5L212.5,173.5L212.5,173.5L212.5,173.5L212.4,173.5L212.4,173.5L212.4,173.5L212.4,173.5L212.4,173.5L212.4,173.5L212.4,173.5L212.4,173.5L212.4,173.5L212.4,173.5L212.4,173.5L212.4,173.5L212.4,173.5L212.4,173.5L212.4,173.5L212.4,173.5L212.4,173.5L212.4,173.5L212.4,173.5L212.4,173.5L212.4,173.5L212.4,173.5L212.4,173.5L212.4,173.5L212.4,173.5L212.4,173.5L212.6,173.8L212.2,174.4L208.9,176.7L203.9,179.1L203.9,179.1L202.0,180.0L196.2,181.2L196.2,181.2L196.2,181.2L191.4,183.0L191.4,183.0L186.6,185.4L186.6,185.4L186.6,185.4L186.6,185.4L182.4,189.0L182.4,189.0L182.4,189.0L182.3,189.0L182.3,189.0L182.3,189.0L180.5,193.3L180.5,193.3L180.5,193.3L180.5,193.3L180.5,193.3L180.5,193.3L180.5,193.3L180.5,193.3L180.5,193.3L180.5,193.3L181.7,195.7L181.7,195.7L181.8,195.7L181.8,195.7L181.8,195.7L181.8,195.7L181.8,195.7L181.8,195.7L181.8,195.7L187.0,197.5L183.0,198.6L183.0,198.6L183.0,198.6L179.4,200.4L171.6,203.4L167.4,201.7L167.4,201.7L167.4,201.7L167.4,201.7L162.5,201.1L157.7,199.8L157.7,199.8L150.5,198.6L150.5,198.6L146.9,192.1L148.7,189.7L148.7,189.7L148.7,189.7L148.7,189.7L148.7,189.7L148.7,189.7L148.7,189.7L148.7,189.7L148.7,189.7L148.7,189.7L148.7,189.7L147.5,186.6L147.5,186.6L147.5,186.6L147.5,186.6L147.5,186.6L147.5,186.6L147.5,186.6L147.5,186.6L147.5,186.6L147.5,186.6L147.5,186.6L147.5,186.6L147.5,186.6L140.3,186.4L140.3,186.4L140.3,186.4L140.3,186.4L137.3,187.2L133.7,185.4L133.7,185.4L133.7,185.4L133.7,185.4L130.3,184.8L130.3,184.8L130.3,184.8L130.3,184.8L130.3,184.8L130.3,184.8L130.3,184.8L130.3,184.8L130.3,184.8L130.3,184.8L130.3,184.8L130.3,184.8L130.2,184.8L130.2,184.8L130.2,184.8L130.2,184.8L130.2,184.8L130.2,184.8L130.2,184.8L130.2,184.9L130.2,184.9L130.2,184.9L131.8,190.3L132.4,195.1L132.4,195.1L132.4,195.1L134.2,199.9L134.2,199.9L136.6,204.7L137.8,210.7L137.5,217.9L137.5,217.9L137.6,220.0L137.8,225.0L137.5,225.9L136.1,225.4L136.1,225.4L136.1,225.4L136.1,225.4L136.1,225.4L136.1,225.4L131.9,226.0L130.2,223.7L130.1,223.6L130.1,223.6L130.1,223.6L130.1,223.6L130.1,223.6L130.1,223.6L130.1,223.6L130.1,223.6L130.1,223.6L130.1,223.6L130.0,223.6L130.0,223.6L130.0,223.6L130.0,223.6L130.0,223.6L126.4,225.4L122.8,226.2L119.2,223.9L119.2,223.9L119.2,223.9L119.2,223.9L119.2,223.9L119.2,223.9L119.2,223.9L119.2,223.9L119.2,223.9L119.2,223.9L119.2,223.9L119.2,223.9L112.2,227.5L112.2,227.5L112.2,227.5L112.2,227.5L112.2,227.6L109.8,229.4L107.4,226.4L102.0,217.4L102.0,217.4L102.0,217.4L102.0,217.4L102.0,217.4L102.0,217.4L99.0,215.6L99.0,215.6L99.0,215.6L99.0,215.6L99.0,215.6L94.8,215.0L94.8,215.0L94.7,215.0L94.7,215.0L94.7,215.0L94.7,215.0L94.7,215.0L90.5,216.8L90.5,216.8L90.5,216.8L88.1,218.6L85.9,219.6L80.9,222.2L78.5,219.8L78.5,219.8L78.5,219.8L78.5,219.8L78.5,219.8L78.5,219.8L78.5,219.8L78.5,219.8L78.5,219.8L78.5,219.8L78.5,219.8L78.5,219.8L78.5,219.8L75.5,221.0L71.3,221.6L67.1,221.0L67.1,221.0L67.1,221.0L67.1,221.0L67.1,221.0L62.8,222.2L62.8,222.2L59.2,223.4L59.2,223.4L59.2,223.4L59.2,223.4L59.2,223.4L59.2,223.4L59.2,223.4L57.4,225.8L57.4,225.8L57.4,225.8L57.4,225.8L57.4,225.8L57.4,225.8L57.4,225.8L57.4,225.8L57.4,225.8L57.4,225.8L58.0,228.8L56.8,231.8L56.8,231.8L56.8,231.8L56.8,231.8L56.8,231.8L56.8,231.8L56.8,231.8L56.8,231.9L56.8,231.9L56.8,231.9L56.8,231.9L56.8,231.9L56.8,231.9L56.8,231.9L56.8,231.9L56.8,231.9L56.8,231.9L56.8,231.9L60.4,233.1L60.4,233.1L60.4,233.1L60.4,233.1L60.5,233.1L60.5,233.1L61.3,233.0L64.1,232.5L64.1,232.5L64.1,232.5L64.1,232.5L64.1,232.5L67.6,230.1L67.0,233.0L67.0,233.0L67.0,233.0L67.0,233.1L67.0,233.1L67.0,233.1L67.0,233.1L67.0,233.1L67.0,233.1L67.0,233.1L67.0,233.1L67.0,233.1L67.0,233.1L67.0,233.1L69.9,234.8L65.9,234.8L65.9,234.8L65.9,234.8L62.3,235.4L62.2,235.4L62.2,235.4L62.2,235.4L62.2,235.4L62.2,235.4L62.2,235.4L62.2,235.4L62.2,235.4L62.2,235.4L62.2,235.4L62.2,235.4L62.2,235.4L62.2,235.4L62.2,235.4L62.2,235.5L62.2,235.5L62.2,235.5L62.2,235.5L62.2,235.5L62.2,235.5L62.2,235.5L64.0,237.9L64.0,237.9L64.0,237.9L64.0,237.9L64.0,237.9L64.0,237.9L64.0,237.9L64.0,237.9L68.1,239.1L58.0,242.6L58.0,242.6L58.0,242.6L58.0,242.6L58.0,242.6L58.0,242.6L56.8,243.8L56.8,243.8L56.8,243.9L56.8,243.9L56.8,243.9L56.8,243.9L56.8,243.9L56.8,243.9L56.8,243.9L56.8,243.9L56.8,243.9L56.8,243.9L56.8,243.9L56.8,243.9L56.8,243.9L56.8,243.9L56.8,243.9L56.8,243.9L56.8,243.9L56.8,243.9L56.8,243.9L56.8,243.9L56.8,243.9L60.4,244.5L64.0,245.7L65.8,249.3L65.2,253.5L65.2,253.5L65.2,253.5L65.2,253.5L65.2,253.5L65.2,253.5L65.2,253.5L65.2,253.5L65.2,253.5L65.2,253.5L65.2,253.5L65.2,253.5L65.2,253.5L65.2,253.5L65.3,253.5L65.3,253.5L65.3,253.5L68.9,254.1L68.9,254.1L68.9,254.1L68.9,254.1L68.9,254.1L68.9,254.1L68.9,254.1L72.5,252.3L72.5,252.3L72.5,252.3L72.5,252.3L72.5,252.3L72.5,252.3L72.5,252.3L72.5,252.3L74.9,247.6L76.1,251.1L76.1,251.1L76.1,251.1L76.1,251.1L76.1,251.1L76.1,251.1L76.1,251.1L76.1,251.1L83.3,256.0L83.3,256.0L83.3,256.0L83.3,256.0L86.9,257.2L87.5,257.4L90.5,259.0L90.5,259.0L90.5,259.0L90.5,259.0L90.5,259.0L90.5,259.0L90.5,259.0L90.5,259.0L90.5,259.0L90.6,259.0L90.6,259.0L90.6,259.0L90.6,259.0L90.6,259.0L90.6,259.0L90.6,258.9L90.6,258.9L91.7,256.6L92.9,260.1L92.9,260.1L92.9,260.1L92.9,260.1L92.9,260.2L92.9,260.2L92.9,260.2L96.5,263.2L95.9,266.7L95.9,266.7L95.9,266.7L95.9,266.7L95.9,266.8L95.9,266.8L95.9,266.8L95.9,266.8L95.9,266.8L95.9,266.8L95.9,266.8L95.9,266.8L95.9,266.8L97.7,268.0L97.7,268.0L97.7,268.0L97.7,268.0L97.7,268.0L97.7,268.0L97.7,268.0L97.8,268.0L97.8,268.0L97.8,268.0L97.8,268.0L97.8,268.0L97.8,268.0L97.8,268.0L97.8,268.0L97.8,268.0L97.8,268.0L97.8,268.0L97.8,268.0L97.8,268.0L100.2,260.8L101.9,263.2L101.9,263.2L101.9,263.2L101.9,263.2L101.9,263.2L102.0,263.2L102.0,263.2L102.0,263.2L104.9,263.8L106.1,265.5L103.8,266.1L103.8,266.1L103.7,266.1L103.7,266.1L103.7,266.1L103.7,266.1L103.7,266.1L103.7,266.1L103.7,266.1L103.7,266.1L103.7,266.1L103.7,266.1L103.7,266.1L103.7,266.1L103.7,266.1L103.7,266.1L103.7,266.2L103.7,266.2L103.7,266.2L103.7,266.2L103.7,266.2L103.7,266.2L103.7,266.2L103.7,266.2L103.7,266.2L103.7,266.2L103.8,266.2L107.4,267.4L107.4,267.4L107.4,267.4L111.0,268.0L112.2,268.6L113.1,270.5L112.0,271.1L112.0,271.1L112.0,271.1L112.0,271.1L112.0,271.1L112.0,271.1L112.0,271.1L112.0,271.1L112.0,271.1L112.0,271.1L112.0,271.1L112.0,271.1L112.0,271.1L112.0,271.2L112.0,271.2L112.7,273.4L112.7,273.4L113.3,275.0L111.7,276.7Z" fill="none" stroke="#2b2b2b" stroke-width="1.0" stroke-linejoin="round"/>
<path d="M322.2,384.1L320.9,384.8L320.9,387.2L322.1,389.2L324.9,390.9L326.9,393.3L327.3,396.9L325.3,396.5L322.9,398.1L320.9,396.9L319.7,394.9L317.3,394.1L314.1,394.1L312.9,392.9L314.1,390.0L312.5,391.7L310.0,391.3L309.6,390.6L309.1,390.5M309.8,389.6L309.5,390.7L308.7,391.5L307.6,391.8L306.5,391.5L305.7,390.7L305.4,389.6L305.7,388.5L306.5,387.7L307.6,387.4L308.7,387.7L309.5,388.5L309.8,389.6M306.1,390.5L305.6,390.6L306.0,392.0L304.4,393.7L302.8,391.3L300.4,392.1L299.2,393.2M357.4,261.1L357.4,261.6L357.8,265.0L358.3,268.7L358.0,269.2M178.4,280.2L177.9,280.0L177.0,282.0L176.4,284.0L176.1,284.4M196.6,243.2L196.2,243.5L196.1,242.7L196.5,240.7L198.5,239.1L200.9,237.1L201.7,234.7L201.3,231.9L199.3,229.9L198.5,227.1L198.4,226.6M288.9,253.0L288.8,252.5L292.4,252.0L294.8,250.4L297.6,251.2L300.4,253.6L302.8,256.8L304.0,259.2L303.2,261.3L304.8,263.3L307.6,264.1L309.6,263.7L311.7,266.9L313.7,267.3L315.3,264.5L317.7,263.7L320.5,263.7L322.5,263.3L322.9,260.8L321.7,258.8L323.7,256.8L326.1,254.8L327.7,252.0L330.1,250.8L332.1,249.6L333.7,250.8L335.3,252.8L338.1,252.0L340.5,252.4L342.5,254.0L344.9,252.4L346.9,254.0L349.0,254.3L348.7,254.8M197.8,300.4L198.9,300.0L199.5,304.8L202.5,309.0L206.1,312.6L209.7,314.4L212.7,315.0L215.7,312.6L225.3,311.4L230.2,312.0L235.0,312.0L235.5,312.0M234.7,312.5L235.0,312.0L237.4,307.2L242.2,307.8L244.0,303.6L247.0,301.2L250.0,300.0L252.2,298.4M234.8,311.6L235.0,312.0L236.2,315.6L239.8,318.1L242.2,321.7L243.4,330.1L241.0,333.1L238.6,335.5L241.0,338.5L242.2,348.1L241.0,351.7L237.4,351.1L233.2,357.8L232.6,360.0L233.0,362.7M213.2,174.0L212.4,173.5L220.3,182.5L221.5,186.7L220.9,191.6L221.5,195.0L222.8,197.2M284.4,177.0L283.7,176.5L284.4,181.3L279.8,190.3L278.0,195.0L277.9,197.8M221.2,194.6L222.6,196.8L223.3,199.6L222.7,204.4L219.7,209.2L219.4,209.7M219.2,209.4L219.7,209.2L223.9,208.1L229.3,207.4L234.1,208.7L238.9,209.2L243.7,211.7L248.5,212.3L253.3,211.1L257.0,211.1L259.4,214.7L263.9,220.1L264.3,220.5M263.6,220.5L263.9,220.1L266.6,217.1L269.0,213.5L268.4,209.2L270.2,205.6L269.6,202.0L272.6,200.2L277.4,199.0L277.9,197.3L278.5,198.5M263.8,219.6L263.9,220.1L265.1,224.9L264.4,230.9L263.6,235.1L262.4,238.1L262.2,238.6M262.9,238.1L262.4,238.1L258.2,238.7L255.2,240.5L253.9,242.9L250.9,245.3L246.1,247.2L242.5,247.8L240.1,245.3L236.5,242.3L231.7,241.1L228.1,241.7L226.3,235.7L222.1,232.1L219.7,228.5L217.8,222.5L216.1,218.3L215.9,217.8M216.2,218.8L216.1,218.3L215.4,215.9L216.1,212.9L217.2,211.1L219.7,209.2L220.1,208.9M216.5,218.2L216.1,218.3L213.6,218.9L210.0,222.5L200.4,226.1L198.0,227.3L199.0,227.0M262.0,237.8L262.4,238.1L265.4,240.5L269.0,244.8L270.8,248.4L272.0,250.0L274.6,250.1M357.4,262.1L357.4,261.6L355.0,258.5L352.0,256.1L349.0,254.3L349.0,253.8M281.3,254.0L284.0,253.7L288.8,252.5L288.7,252.0M139.6,226.1L139.9,226.6L140.3,230.8L143.9,232.6L148.1,231.4L151.1,232.0L151.6,232.1M151.1,231.5L151.1,232.0L150.5,238.1L151.7,250.1L148.1,252.5L146.9,256.1L145.7,258.5L142.1,257.3L137.9,259.1L128.8,261.5L124.0,263.9L121.6,267.5L114.4,269.9L112.0,271.1L112.9,273.9M150.6,232.1L151.1,232.0L154.7,231.4L157.7,233.8L161.3,233.2L164.9,232.0L168.6,232.0L172.2,230.8L174.6,233.2L177.0,236.2L184.2,235.0L187.2,236.8L189.0,240.4L192.6,242.3L196.2,243.5L198.0,245.9L198.3,246.3M198.0,245.4L198.0,245.9L198.6,250.1L197.7,256.1L195.0,260.3L190.2,263.9L186.0,266.7L183.0,268.1L180.6,272.9L177.9,280.0L177.4,279.8M251.9,243.9L252.8,245.0L256.4,251.0L255.8,254.6L253.9,258.2L252.8,261.8L249.7,263.1L250.9,267.9L250.3,272.7L250.9,277.5L252.8,281.1L255.8,284.7L256.4,293.1L255.8,299.1L255.7,299.6M256.2,299.2L255.8,299.1L252.1,298.5L251.8,298.7L249.6,300.3M255.4,298.8L255.8,299.1L258.2,300.9L261.8,300.4L265.4,301.6L269.0,300.4L271.4,302.1L272.6,305.0L274.1,307.4M271.5,250.0L274.1,250.1L277.4,253.4L281.8,254.0L284.5,253.7M144.0,315.5L144.5,315.3L148.1,313.7L152.9,314.1L157.7,314.1L160.7,312.9L160.1,309.9L158.3,306.3L158.9,302.1L153.5,290.0L157.7,288.2L162.5,287.0L173.4,285.8L176.4,284.0L176.8,283.8M176.0,283.7L176.4,284.0L179.4,286.4L183.0,287.6L184.8,290.6L189.0,291.2L192.0,289.4L195.0,292.4L198.9,301.7L199.6,301.6M202.3,391.0L202.0,388.6L198.6,389.8L197.4,394.0L195.0,397.0L191.4,398.8L181.8,402.4L177.6,403.1L174.0,404.9L171.0,404.9L167.3,406.7L166.1,414.5L164.9,417.5L167.9,419.3L171.0,422.3L171.6,427.1L169.8,431.9L166.8,436.7L164.3,439.8L163.1,445.0L162.5,448.1M232.5,359.5L232.9,362.2L230.5,367.0L230.3,367.5M231.0,366.9L230.5,367.0L226.9,367.6L220.3,365.2L216.1,364.6L213.6,366.4L208.8,375.4L206.4,377.9L202.8,379.7L200.4,383.3L201.4,386.6L202.2,389.1M230.4,366.5L230.5,367.0L231.7,376.7L232.9,380.3L240.7,379.1L243.1,375.4L244.3,371.2L246.7,368.2L249.7,371.2L252.1,375.4L253.9,379.7L255.8,375.4L257.0,370.6L260.6,369.4L264.2,367.6L266.0,370.6L267.8,373.1L271.4,371.2L275.0,373.1L277.4,376.1L279.8,380.9L281.6,385.7L283.4,389.3L286.4,391.1L288.0,391.7L290.5,391.3M272.3,304.6L273.8,307.0L274.1,307.8L278.3,310.2L279.5,314.4L277.1,318.1L278.9,320.4L283.7,319.9L288.5,321.1L291.5,318.1L295.7,316.8L299.3,317.4L301.1,320.4L304.1,309.6L307.1,307.8L311.4,308.4L315.0,312.0L318.6,315.0L322.2,315.6L324.6,314.4L328.2,316.2L330.1,315.3L330.8,315.5M287.5,391.8L290.1,391.4L294.1,390.4L298.9,391.6L299.8,393.3M352.0,358.8L352.2,359.4L347.0,359.7L342.2,360.9L341.6,363.9L344.6,365.1L343.4,368.1L336.2,370.5L332.6,372.3L330.2,375.9L326.6,377.1L325.9,380.7L324.1,383.1L321.7,384.3L320.5,385.0M300.8,391.7L299.6,392.8L300.8,397.0L303.2,400.6L305.6,403.6L304.4,406.1L301.4,410.3L297.8,413.9L291.7,421.1L290.5,424.1L290.7,424.6" fill="none" stroke="#161616" stroke-width="1.4" stroke-linejoin="round" stroke-linecap="round"/>
<path d="M133.5,316.7L135.9,316.1L138.3,318.5L140.7,319.7L142.5,320.9L140.7,321.7L138.3,320.5L135.3,319.3Z" fill="#4dc0cc" stroke="#1c1c1c" stroke-width="1.0"/>
<path d="M137.7,324.2L140.1,326.0L142.5,329.3L143.3,332.3L142.1,334.7L139.7,331.3L137.9,328.1Z" fill="#4dc0cc" stroke="#1c1c1c" stroke-width="1.0"/>
<path d="M369.7,433.0L371.3,434.2L371.7,438.3L373.0,442.5L373.7,446.7L375.0,451.7L375.8,456.7L376.3,461.7L375.8,468.3L375.3,473.3L374.7,478.3L373.7,483.3L373.0,486.7L371.3,489.2L370.8,492.5L369.2,495.8L366.7,495.0L364.2,492.5L361.7,490.8L360.0,488.3L356.7,486.7L357.5,484.2L353.3,482.5L355.0,479.2L351.7,476.7L353.3,474.2L350.8,471.7L352.5,468.3L349.7,465.8L350.8,462.5L347.5,460.0L349.7,457.5L349.2,454.2L351.7,452.5L350.8,450.0L355.0,448.3L359.2,445.8L363.3,444.2L366.7,443.3L368.0,440.0L367.5,435.8L368.3,433.3Z" fill="#2ba2ad" stroke="#1c1c1c" stroke-width="1.1" stroke-linejoin="round"/>
<path d="M347.8,459.7L355.0,460.0L357.5,462.5L361.7,466.7L365.8,470.8L367.5,475.0L369.2,477.5L372.5,477.5L375.3,474.7" fill="none" stroke="#fff" stroke-width="1.1"/>
<path d="M53.3,287.6L55.7,287.3L58.1,288.5L60.5,290.2L62.9,292.0L65.2,292.0L67.0,290.2L68.2,287.9L67.6,284.9L67.6,283.1L68.8,280.7L70.6,279.3L73.0,279.5L74.8,281.3L75.4,284.3L76.5,287.3L78.9,289.0L81.9,290.0L84.9,291.4L87.3,293.2L88.5,294.6L85.5,295.0L80.7,295.2L74.8,295.6L68.8,296.8L67.4,301.0L66.7,304.5L65.2,307.5L62.9,309.9L60.5,311.3L58.1,311.7L56.3,309.3L54.5,305.7L53.3,302.1L51.9,297.4L51.5,293.8L52.1,290.8Z" fill="#2ba2ad" stroke="#1c1c1c" stroke-width="1.15" stroke-linejoin="round"/>
<path d="M83.3,309.0L85.5,309.9L86.9,311.9L86.7,314.3L84.9,316.2L82.5,316.4L80.5,315.0L79.9,312.6L80.7,310.5Z" fill="#2ba2ad" stroke="#1c1c1c" stroke-width="1.15" stroke-linejoin="round"/>
<path d="M61.1,316.7L63.8,315.7L66.4,316.0L66.0,317.9L63.1,318.8L61.4,318.1Z" fill="#1c1c1c" stroke="#1c1c1c" stroke-width="0.6" stroke-linejoin="round"/>
<path d="M92.6,291.0L95.6,289.0L99.2,288.3L98.6,289.8L95.6,291.2L93.1,292.1Z" fill="#1c1c1c" stroke="#1c1c1c" stroke-width="0.6" stroke-linejoin="round"/>
<path d="M56.9,333.9L59.9,332.1L63.5,331.9L67.6,332.7L71.2,334.5L74.2,336.3L76.5,338.7L78.9,341.1L80.7,342.9L83.1,341.7L86.1,340.2L89.0,340.5L87.3,342.9L84.9,344.0L86.7,345.8L87.9,347.6L89.3,352.4L90.8,357.1L92.6,360.7L93.8,364.3L94.4,367.9L92.6,371.4L90.8,374.4L89.0,375.6L87.3,373.2L86.7,370.8L84.3,369.6L80.7,369.0L77.1,369.6L73.6,370.8L70.6,368.5L68.2,366.1L67.6,363.1L70.0,361.3L73.6,360.1L74.8,357.7L68.8,353.0L62.9,348.2L60.5,344.6L58.1,341.1L56.9,337.5Z" fill="#2ba2ad" stroke="#1c1c1c" stroke-width="1.15" stroke-linejoin="round"/>
<path d="M65.8,387.7L68.8,388.6L72.4,390.1L76.0,390.7L78.9,393.1L81.9,396.1L84.9,397.9L87.9,400.2L90.8,402.0L92.6,404.4L92.0,408.0L90.8,411.5L89.0,415.7L86.7,419.3L84.3,422.9L82.5,425.8L79.5,427.0L76.0,427.6L72.4,427.6L68.8,428.8L65.2,430.0L61.7,430.6L58.1,429.4L57.5,427.6L59.9,425.2L61.7,422.3L62.3,418.7L64.6,415.1L65.2,412.1L61.7,407.4L59.3,402.6L59.9,397.9L61.7,394.3L63.5,391.3Z" fill="#2ba2ad" stroke="#1c1c1c" stroke-width="1.15" stroke-linejoin="round"/>
<path d="M50.2,384.0L53.9,384.5L58.1,385.0L61.9,386.2L66.0,387.5L65.7,388.2L61.7,387.0L57.9,386.0L53.9,385.6L50.5,385.7Z" fill="#1c1c1c" stroke="none"/>
<path d="M92.6,404.0L95.0,404.6L97.4,407.0L99.2,410.6L100.4,414.8L101.0,419.3" fill="none" stroke="#1c1c1c" stroke-width="1.5" stroke-linecap="round"/>
<path d="M57.5,447.5L60.5,445.7L64.0,444.5L68.8,444.8L73.6,445.1L78.3,445.7L81.9,446.9L85.5,449.3L87.3,452.9L88.5,456.4L90.8,458.8L94.4,461.8L96.8,464.8L96.2,469.5L94.4,473.7L93.2,477.3L90.2,479.0L86.7,480.8L81.9,481.4L77.1,480.8L73.0,479.0L68.8,476.7L64.6,474.9L61.7,473.1L59.9,469.5L58.1,466.5L55.1,461.8L53.3,457.6L53.9,454.0L56.3,451.7Z" fill="#2ba2ad" stroke="#1c1c1c" stroke-width="1.15" stroke-linejoin="round"/>
<g font-family="Liberation Sans, sans-serif" font-size="9.1" fill="none" stroke="#fff" stroke-opacity="0.75" stroke-width="2" stroke-linejoin="round">
<text x="220.6" y="180.9" textLength="72.5" lengthAdjust="spacingAndGlyphs">Hauts-de-France</text>
<text x="161.8" y="214.8" textLength="48.5" lengthAdjust="spacingAndGlyphs">Normandie</text>
<text x="218.5" y="229.2" textLength="58.9" lengthAdjust="spacingAndGlyphs">Île-de-France</text>
<text x="306.7" y="229.8" textLength="43.4" lengthAdjust="spacingAndGlyphs">Grand-Est</text>
<text x="90.5" y="244.9" textLength="39.1" lengthAdjust="spacingAndGlyphs">Bretagne</text>
<text x="124.2" y="274.8" textLength="66.0" lengthAdjust="spacingAndGlyphs">Pays de la Loire</text>
<text x="211.2" y="270.6" textLength="29.2" lengthAdjust="spacingAndGlyphs">Centre</text>
<text x="247.9" y="288.4" textLength="121.5" lengthAdjust="spacingAndGlyphs">Bourgogne-Franche-Comté</text>
<text x="139.7" y="373.1" textLength="84.8" lengthAdjust="spacingAndGlyphs">Nouvelle-Aquitaine</text>
<text x="254.2" y="346.7" textLength="101.8" lengthAdjust="spacingAndGlyphs">Auvergne-Rhône-Alpes</text>
<text x="217.5" y="418.4" textLength="41.3" lengthAdjust="spacingAndGlyphs">Occitanie</text>
<text x="277.7" y="412.1" textLength="123.9" lengthAdjust="spacingAndGlyphs">Provence-Alpes-Côte d’Azur</text>
<text x="349.7" y="468.8" textLength="25.3" lengthAdjust="spacingAndGlyphs">Corse</text>
<text x="48.8" y="301.8" textLength="52.7" lengthAdjust="spacingAndGlyphs">Guadeloupe</text>
<text x="52.0" y="355.3" textLength="46.3" lengthAdjust="spacingAndGlyphs">Martinique</text>
<text x="58.9" y="411.1" textLength="33.3" lengthAdjust="spacingAndGlyphs">Guyane</text>
<text x="57.3" y="465.6" textLength="36.0" lengthAdjust="spacingAndGlyphs">Réunion</text>
</g>
<g font-family="Liberation Sans, sans-serif" font-size="9.1" fill="#1b1722" stroke="#1b1722" stroke-width="0.4" stroke-linejoin="round">
<text x="220.6" y="180.9" textLength="72.5" lengthAdjust="spacingAndGlyphs">Hauts-de-France</text>
<text x="161.8" y="214.8" textLength="48.5" lengthAdjust="spacingAndGlyphs">Normandie</text>
<text x="218.5" y="229.2" textLength="58.9" lengthAdjust="spacingAndGlyphs">Île-de-France</text>
<text x="306.7" y="229.8" textLength="43.4" lengthAdjust="spacingAndGlyphs">Grand-Est</text>
<text x="90.5" y="244.9" textLength="39.1" lengthAdjust="spacingAndGlyphs">Bretagne</text>
<text x="124.2" y="274.8" textLength="66.0" lengthAdjust="spacingAndGlyphs">Pays de la Loire</text>
<text x="211.2" y="270.6" textLength="29.2" lengthAdjust="spacingAndGlyphs">Centre</text>
<text x="247.9" y="288.4" textLength="121.5" lengthAdjust="spacingAndGlyphs">Bourgogne-Franche-Comté</text>
<text x="139.7" y="373.1" textLength="84.8" lengthAdjust="spacingAndGlyphs">Nouvelle-Aquitaine</text>
<text x="254.2" y="346.7" textLength="101.8" lengthAdjust="spacingAndGlyphs">Auvergne-Rhône-Alpes</text>
<text x="217.5" y="418.4" textLength="41.3" lengthAdjust="spacingAndGlyphs">Occitanie</text>
<text x="277.7" y="412.1" textLength="123.9" lengthAdjust="spacingAndGlyphs">Provence-Alpes-Côte d’Azur</text>
<text x="349.7" y="468.8" textLength="25.3" lengthAdjust="spacingAndGlyphs">Corse</text>
<text x="48.8" y="301.8" textLength="52.7" lengthAdjust="spacingAndGlyphs">Guadeloupe</text>
<text x="52.0" y="355.3" textLength="46.3" lengthAdjust="spacingAndGlyphs">Martinique</text>
<text x="58.9" y="411.1" textLength="33.3" lengthAdjust="spacingAndGlyphs">Guyane</text>
<text x="57.3" y="465.6" textLength="36.0" lengthAdjust="spacingAndGlyphs">Réunion</text>
</g>
</svg>
</body>
</html>
